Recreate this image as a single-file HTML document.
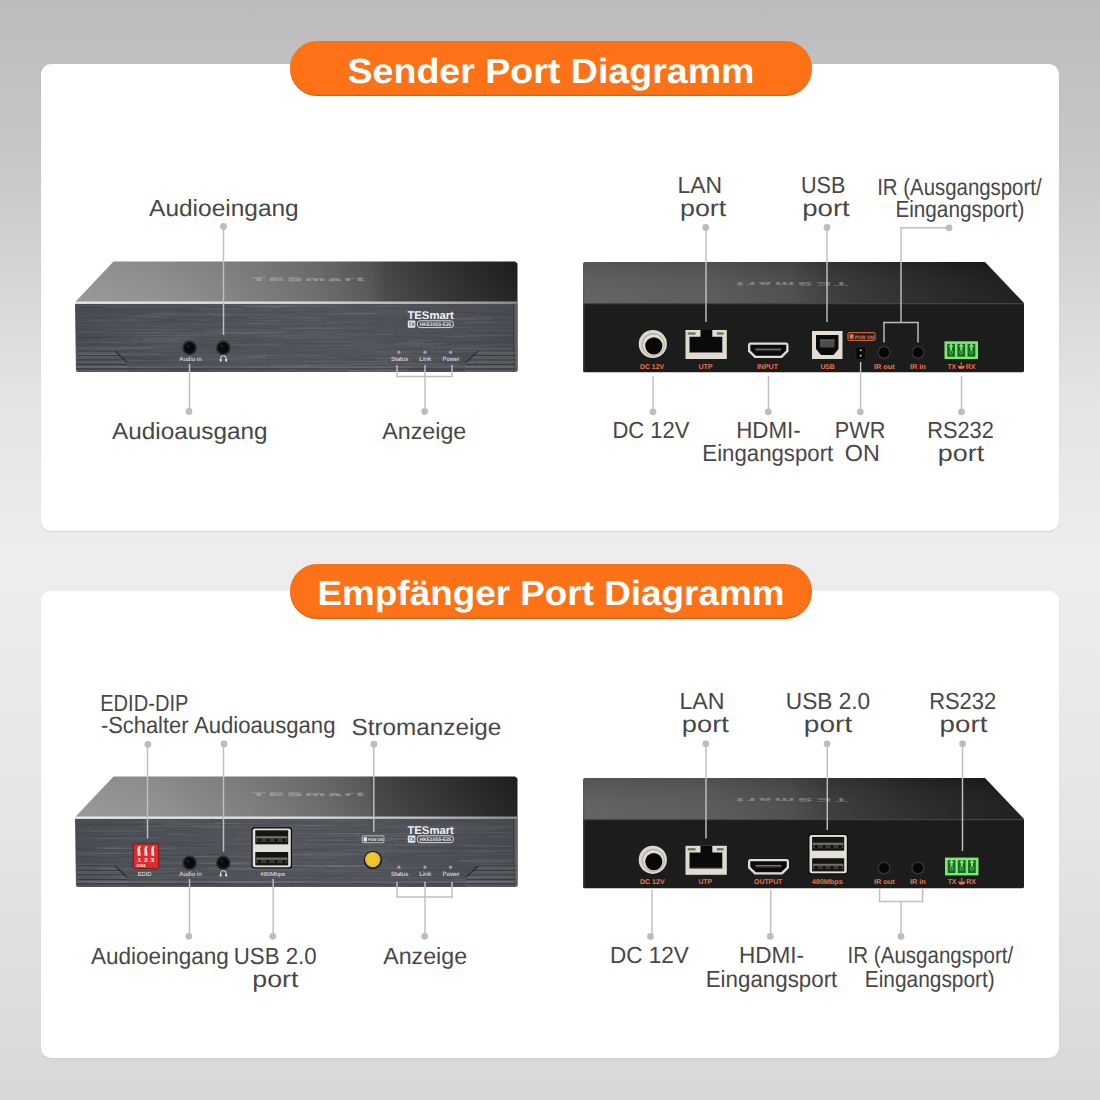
<!DOCTYPE html>
<html><head><meta charset="utf-8"><title>Port Diagramm</title><style>
html,body{margin:0;padding:0;}
body{width:1100px;height:1100px;overflow:hidden;position:relative;
background:linear-gradient(180deg,#bcbcbc 0px,#c6c6c6 150px,#e4e4e4 400px,#ededed 560px,#e6e6e6 800px,#d8d8d8 1100px);
font-family:"Liberation Sans",sans-serif;}
.card{position:absolute;left:41px;width:1018px;background:#fff;border-radius:10px;}
.pill{position:absolute;left:290px;width:522px;height:54.5px;border-radius:27px;background:#fd7216;
box-shadow:inset 0 -1.2px 1px rgba(140,60,0,0.35);}
svg{position:absolute;left:0;top:0;}
text{font-family:"Liberation Sans",sans-serif;}
</style></head><body>
<div class="card" style="top:64px;height:467px;box-shadow:0 1px 1px rgba(0,0,0,0.10);"></div>
<div class="card" style="top:590.5px;height:467.5px;box-shadow:0 1px 1px rgba(0,0,0,0.06);"></div>
<div class="pill" style="top:41px"></div>
<div class="pill" style="top:564.2px"></div>
<svg width="1100" height="1100" viewBox="0 0 1100 1100" font-family="Liberation Sans, sans-serif" text-rendering="geometricPrecision">
<defs>
<linearGradient id="gTopF" x1="0" y1="0" x2="1" y2="0">
<stop offset="0" stop-color="#969696"/><stop offset="0.19" stop-color="#8f8f8f"/><stop offset="0.35" stop-color="#828282"/><stop offset="0.553" stop-color="#6b6b6b"/><stop offset="0.67" stop-color="#555555"/><stop offset="0.7" stop-color="#484848"/><stop offset="0.85" stop-color="#303030"/><stop offset="1" stop-color="#1e1e1e"/>
</linearGradient>
<linearGradient id="gTopF2" x1="0" y1="0" x2="1" y2="0">
<stop offset="0" stop-color="#969696"/><stop offset="0.19" stop-color="#8f8f8f"/><stop offset="0.35" stop-color="#818181"/><stop offset="0.553" stop-color="#6b6b6b"/><stop offset="0.665" stop-color="#585858"/><stop offset="0.68" stop-color="#474747"/><stop offset="0.85" stop-color="#303030"/><stop offset="1" stop-color="#1e1e1e"/>
</linearGradient>
<linearGradient id="gTopFv" x1="0" y1="0" x2="0" y2="1">
<stop offset="0" stop-color="#000" stop-opacity="0.04"/><stop offset="1" stop-color="#fff" stop-opacity="0.03"/>
</linearGradient>
<linearGradient id="gHi" x1="0" y1="0" x2="1" y2="0">
<stop offset="0" stop-color="#e8e8e8"/><stop offset="0.5" stop-color="#dcdcdc"/><stop offset="0.8" stop-color="#b8b8b8"/><stop offset="1" stop-color="#8c8c8c"/>
</linearGradient>
<linearGradient id="gTopR" x1="0" y1="0" x2="1" y2="0">
<stop offset="0" stop-color="#5e5e5e"/><stop offset="0.27" stop-color="#585858"/><stop offset="0.47" stop-color="#4a4a4a"/><stop offset="0.56" stop-color="#383838"/><stop offset="0.72" stop-color="#292929"/><stop offset="0.9" stop-color="#1d1d1d"/><stop offset="1" stop-color="#181818"/>
</linearGradient>
<linearGradient id="gTopRv" x1="0" y1="0" x2="0" y2="1">
<stop offset="0" stop-color="#000" stop-opacity="0.10"/><stop offset="1" stop-color="#fff" stop-opacity="0.04"/>
</linearGradient>
<linearGradient id="gFrontShade" x1="0" y1="0" x2="1" y2="0">
<stop offset="0" stop-color="#000" stop-opacity="0.05"/><stop offset="0.5" stop-color="#fff" stop-opacity="0.03"/><stop offset="1" stop-color="#000" stop-opacity="0.08"/>
</linearGradient>
</defs>
<text x="551" y="83.4" font-size="35" font-weight="bold" fill="#fff" text-anchor="middle" textLength="407" lengthAdjust="spacingAndGlyphs">Sender Port Diagramm</text>
<text x="551" y="604.5" font-size="35" font-weight="bold" fill="#fff" text-anchor="middle" textLength="467" lengthAdjust="spacingAndGlyphs">Empfänger Port Diagramm</text>
<polygon points="113.5,261.5 515,261.5 517.5,263.5 517.5,302.3 75,302.3" fill="url(#gTopF)"/>
<polygon points="113.5,261.5 515,261.5 517.5,263.5 517.5,302.3 75,302.3" fill="url(#gTopFv)"/>
<text x="0" y="0" font-size="8.5" font-weight="bold" text-anchor="middle" fill="#c8c8c8" opacity="0.45" stroke="#c8c8c8" stroke-width="0.4" textLength="43" lengthAdjust="spacing" transform="translate(308,281.3) scale(2.6,0.6)">TESmart</text>
<path d="M75,302.3 L517.5,302.3 L517.5,370 Q517.5,372 515.5,372 L78,372 Q76,372 76,370 Z" fill="#4b4f55"/>
<rect x="454.2" y="334.5" width="57.0" height="1.0" fill="#ffffff" opacity="0.048"/>
<rect x="247.7" y="317.0" width="75.3" height="1.3" fill="#ffffff" opacity="0.065"/>
<rect x="300.2" y="334.1" width="25.6" height="1.3" fill="#ffffff" opacity="0.057"/>
<rect x="320.0" y="369.8" width="87.4" height="1.3" fill="#ffffff" opacity="0.058"/>
<rect x="76.0" y="305.3" width="54.6" height="0.7" fill="#ffffff" opacity="0.069"/>
<rect x="244.9" y="306.3" width="49.8" height="0.7" fill="#ffffff" opacity="0.051"/>
<rect x="105.7" y="323.9" width="15.3" height="1.3" fill="#ffffff" opacity="0.039"/>
<rect x="348.4" y="370.7" width="78.0" height="1.0" fill="#ffffff" opacity="0.063"/>
<rect x="403.0" y="323.6" width="20.3" height="1.0" fill="#000000" opacity="0.030"/>
<rect x="405.4" y="330.1" width="86.9" height="0.7" fill="#ffffff" opacity="0.036"/>
<rect x="206.6" y="335.6" width="88.5" height="0.7" fill="#ffffff" opacity="0.053"/>
<rect x="96.7" y="356.2" width="35.2" height="1.0" fill="#000000" opacity="0.026"/>
<rect x="172.5" y="354.9" width="23.8" height="0.7" fill="#000000" opacity="0.026"/>
<rect x="307.9" y="357.5" width="28.3" height="1.0" fill="#ffffff" opacity="0.050"/>
<rect x="221.6" y="355.6" width="46.4" height="1.0" fill="#ffffff" opacity="0.046"/>
<rect x="465.0" y="304.3" width="51.0" height="1.3" fill="#ffffff" opacity="0.040"/>
<rect x="429.6" y="318.4" width="44.6" height="1.3" fill="#ffffff" opacity="0.054"/>
<rect x="174.1" y="370.3" width="31.0" height="1.3" fill="#000000" opacity="0.041"/>
<rect x="157.6" y="330.1" width="20.6" height="1.3" fill="#ffffff" opacity="0.037"/>
<rect x="101.1" y="328.9" width="61.7" height="1.3" fill="#ffffff" opacity="0.049"/>
<rect x="330.0" y="313.4" width="44.0" height="1.0" fill="#ffffff" opacity="0.070"/>
<rect x="386.7" y="320.9" width="29.2" height="1.3" fill="#000000" opacity="0.035"/>
<rect x="231.3" y="363.1" width="60.3" height="0.7" fill="#ffffff" opacity="0.030"/>
<rect x="369.6" y="368.5" width="32.9" height="1.0" fill="#ffffff" opacity="0.046"/>
<rect x="457.9" y="337.0" width="54.0" height="0.7" fill="#000000" opacity="0.031"/>
<rect x="306.8" y="341.6" width="78.9" height="1.0" fill="#ffffff" opacity="0.036"/>
<rect x="246.9" y="354.3" width="20.2" height="0.7" fill="#ffffff" opacity="0.028"/>
<rect x="476.7" y="323.1" width="39.3" height="0.7" fill="#000000" opacity="0.043"/>
<rect x="348.0" y="369.7" width="64.3" height="1.3" fill="#ffffff" opacity="0.072"/>
<rect x="468.3" y="306.6" width="16.3" height="1.3" fill="#ffffff" opacity="0.041"/>
<rect x="256.8" y="305.7" width="62.7" height="1.3" fill="#ffffff" opacity="0.041"/>
<rect x="306.0" y="371.0" width="20.6" height="1.3" fill="#ffffff" opacity="0.027"/>
<rect x="487.5" y="353.5" width="24.7" height="1.0" fill="#ffffff" opacity="0.043"/>
<rect x="442.8" y="335.9" width="20.8" height="0.7" fill="#ffffff" opacity="0.068"/>
<rect x="210.5" y="305.3" width="64.7" height="0.7" fill="#ffffff" opacity="0.055"/>
<rect x="177.3" y="310.3" width="23.7" height="1.0" fill="#000000" opacity="0.061"/>
<rect x="243.9" y="366.6" width="67.1" height="1.0" fill="#ffffff" opacity="0.067"/>
<rect x="185.7" y="338.9" width="53.6" height="0.7" fill="#ffffff" opacity="0.049"/>
<rect x="407.4" y="368.2" width="23.5" height="1.3" fill="#000000" opacity="0.071"/>
<rect x="117.7" y="364.1" width="42.6" height="1.3" fill="#ffffff" opacity="0.035"/>
<rect x="465.0" y="354.6" width="40.7" height="1.0" fill="#000000" opacity="0.070"/>
<rect x="338.1" y="331.3" width="33.8" height="0.7" fill="#000000" opacity="0.069"/>
<rect x="126.3" y="318.9" width="84.1" height="0.7" fill="#ffffff" opacity="0.050"/>
<rect x="154.7" y="351.7" width="86.3" height="0.7" fill="#000000" opacity="0.031"/>
<rect x="242.6" y="322.7" width="31.1" height="1.3" fill="#ffffff" opacity="0.051"/>
<rect x="469.1" y="325.3" width="46.9" height="1.0" fill="#ffffff" opacity="0.041"/>
<rect x="344.1" y="322.9" width="60.6" height="1.0" fill="#000000" opacity="0.054"/>
<rect x="329.4" y="347.6" width="57.3" height="1.0" fill="#ffffff" opacity="0.048"/>
<rect x="401.4" y="355.6" width="35.0" height="0.7" fill="#ffffff" opacity="0.074"/>
<rect x="333.1" y="334.1" width="62.2" height="1.0" fill="#ffffff" opacity="0.073"/>
<rect x="150.3" y="317.5" width="76.8" height="1.3" fill="#000000" opacity="0.026"/>
<rect x="166.8" y="340.0" width="17.7" height="1.0" fill="#ffffff" opacity="0.052"/>
<rect x="101.2" y="337.7" width="89.8" height="1.3" fill="#ffffff" opacity="0.070"/>
<rect x="205.7" y="331.7" width="81.9" height="1.0" fill="#ffffff" opacity="0.048"/>
<rect x="310.3" y="363.5" width="15.5" height="1.3" fill="#000000" opacity="0.069"/>
<rect x="134.2" y="335.2" width="63.8" height="1.3" fill="#ffffff" opacity="0.068"/>
<rect x="170.5" y="365.9" width="24.3" height="1.0" fill="#000000" opacity="0.074"/>
<rect x="179.8" y="340.1" width="74.3" height="1.3" fill="#000000" opacity="0.068"/>
<rect x="217.6" y="338.0" width="17.8" height="1.0" fill="#000000" opacity="0.063"/>
<rect x="442.0" y="365.6" width="31.4" height="1.0" fill="#ffffff" opacity="0.065"/>
<rect x="445.8" y="339.9" width="66.5" height="1.0" fill="#ffffff" opacity="0.032"/>
<rect x="347.3" y="364.4" width="53.9" height="1.0" fill="#000000" opacity="0.072"/>
<rect x="376.1" y="342.9" width="66.7" height="1.0" fill="#000000" opacity="0.051"/>
<rect x="119.8" y="359.7" width="57.1" height="1.3" fill="#ffffff" opacity="0.067"/>
<rect x="463.4" y="321.4" width="52.6" height="1.3" fill="#ffffff" opacity="0.035"/>
<rect x="301.0" y="368.9" width="54.3" height="0.7" fill="#ffffff" opacity="0.046"/>
<rect x="76.0" y="337.9" width="60.4" height="0.7" fill="#000000" opacity="0.051"/>
<rect x="85.0" y="340.6" width="89.2" height="0.7" fill="#ffffff" opacity="0.060"/>
<rect x="456.4" y="366.4" width="49.4" height="1.0" fill="#000000" opacity="0.038"/>
<rect x="452.2" y="337.2" width="40.5" height="1.0" fill="#ffffff" opacity="0.051"/>
<rect x="452.4" y="317.1" width="61.3" height="0.7" fill="#ffffff" opacity="0.060"/>
<rect x="76.0" y="306.7" width="26.7" height="1.0" fill="#000000" opacity="0.041"/>
<rect x="269.7" y="320.6" width="52.4" height="1.3" fill="#ffffff" opacity="0.031"/>
<rect x="350.2" y="345.9" width="68.8" height="1.0" fill="#ffffff" opacity="0.026"/>
<rect x="118.9" y="331.9" width="54.7" height="0.7" fill="#ffffff" opacity="0.068"/>
<rect x="423.2" y="346.9" width="54.7" height="1.3" fill="#ffffff" opacity="0.054"/>
<rect x="397.3" y="319.8" width="70.6" height="0.7" fill="#000000" opacity="0.041"/>
<rect x="403.7" y="363.7" width="29.6" height="0.7" fill="#ffffff" opacity="0.069"/>
<rect x="102.3" y="363.6" width="24.9" height="1.0" fill="#000000" opacity="0.030"/>
<rect x="130.4" y="340.5" width="67.9" height="1.3" fill="#ffffff" opacity="0.059"/>
<rect x="204.5" y="310.7" width="57.7" height="1.0" fill="#ffffff" opacity="0.031"/>
<rect x="495.0" y="346.6" width="21.0" height="0.7" fill="#000000" opacity="0.065"/>
<rect x="309.8" y="311.4" width="17.8" height="1.3" fill="#000000" opacity="0.070"/>
<rect x="151.3" y="314.1" width="28.8" height="0.7" fill="#ffffff" opacity="0.075"/>
<rect x="484.8" y="310.7" width="19.6" height="1.0" fill="#ffffff" opacity="0.029"/>
<rect x="277.7" y="326.1" width="50.0" height="1.0" fill="#000000" opacity="0.036"/>
<rect x="413.7" y="305.2" width="67.6" height="0.7" fill="#000000" opacity="0.045"/>
<rect x="139.2" y="353.6" width="45.4" height="0.7" fill="#ffffff" opacity="0.030"/>
<rect x="435.8" y="325.9" width="21.4" height="1.3" fill="#ffffff" opacity="0.072"/>
<rect x="482.0" y="344.3" width="34.0" height="1.0" fill="#ffffff" opacity="0.039"/>
<rect x="397.8" y="354.0" width="73.3" height="1.0" fill="#000000" opacity="0.032"/>
<rect x="380.0" y="363.0" width="67.1" height="0.7" fill="#ffffff" opacity="0.045"/>
<rect x="171.3" y="316.6" width="74.8" height="0.7" fill="#000000" opacity="0.026"/>
<rect x="76.0" y="370.4" width="82.7" height="1.0" fill="#ffffff" opacity="0.072"/>
<rect x="239.1" y="324.2" width="31.2" height="0.7" fill="#000000" opacity="0.052"/>
<rect x="143.7" y="338.6" width="52.3" height="0.7" fill="#ffffff" opacity="0.063"/>
<rect x="370.5" y="305.8" width="61.2" height="1.0" fill="#ffffff" opacity="0.047"/>
<rect x="226.5" y="307.7" width="29.7" height="0.7" fill="#000000" opacity="0.038"/>
<rect x="271.3" y="364.7" width="56.3" height="1.3" fill="#ffffff" opacity="0.053"/>
<rect x="76.0" y="346.9" width="75.7" height="1.3" fill="#ffffff" opacity="0.058"/>
<rect x="203.1" y="330.1" width="85.4" height="0.7" fill="#ffffff" opacity="0.068"/>
<rect x="482.2" y="345.1" width="19.4" height="1.0" fill="#000000" opacity="0.039"/>
<rect x="180.5" y="344.2" width="42.4" height="1.3" fill="#000000" opacity="0.038"/>
<rect x="76.0" y="348.6" width="71.1" height="0.7" fill="#ffffff" opacity="0.054"/>
<rect x="211.8" y="314.7" width="71.6" height="1.0" fill="#ffffff" opacity="0.062"/>
<rect x="181.9" y="343.1" width="69.2" height="0.7" fill="#000000" opacity="0.046"/>
<rect x="76.0" y="321.0" width="71.7" height="0.7" fill="#ffffff" opacity="0.072"/>
<rect x="485.5" y="365.0" width="25.8" height="0.7" fill="#ffffff" opacity="0.055"/>
<rect x="104.8" y="307.7" width="46.3" height="0.7" fill="#ffffff" opacity="0.043"/>
<rect x="345.8" y="312.6" width="48.2" height="1.0" fill="#ffffff" opacity="0.055"/>
<rect x="395.1" y="343.1" width="46.5" height="1.3" fill="#ffffff" opacity="0.066"/>
<rect x="145.9" y="367.8" width="70.1" height="0.7" fill="#000000" opacity="0.050"/>
<rect x="203.1" y="356.6" width="61.9" height="1.0" fill="#ffffff" opacity="0.055"/>
<rect x="324.9" y="342.0" width="59.4" height="0.7" fill="#ffffff" opacity="0.034"/>
<rect x="130.2" y="337.8" width="64.0" height="1.3" fill="#ffffff" opacity="0.027"/>
<rect x="76.0" y="304.9" width="34.5" height="0.7" fill="#ffffff" opacity="0.030"/>
<rect x="441.8" y="322.9" width="71.7" height="0.7" fill="#ffffff" opacity="0.053"/>
<rect x="206.2" y="369.8" width="51.3" height="1.0" fill="#ffffff" opacity="0.042"/>
<rect x="388.9" y="313.2" width="80.2" height="1.0" fill="#ffffff" opacity="0.065"/>
<rect x="235.2" y="360.2" width="72.7" height="1.3" fill="#ffffff" opacity="0.038"/>
<rect x="479.2" y="328.9" width="36.8" height="1.0" fill="#ffffff" opacity="0.040"/>
<rect x="349.3" y="359.4" width="28.8" height="1.3" fill="#000000" opacity="0.030"/>
<rect x="313.6" y="309.5" width="21.2" height="1.0" fill="#000000" opacity="0.066"/>
<rect x="76.0" y="324.2" width="73.2" height="0.7" fill="#ffffff" opacity="0.071"/>
<rect x="376.1" y="309.7" width="37.8" height="1.3" fill="#ffffff" opacity="0.041"/>
<rect x="187.8" y="318.9" width="64.3" height="0.7" fill="#000000" opacity="0.041"/>
<rect x="447.6" y="342.3" width="68.4" height="1.0" fill="#000000" opacity="0.047"/>
<rect x="486.0" y="334.9" width="30.0" height="1.3" fill="#ffffff" opacity="0.070"/>
<rect x="76.0" y="309.9" width="77.1" height="1.3" fill="#000000" opacity="0.045"/>
<rect x="202.8" y="357.4" width="70.4" height="1.0" fill="#ffffff" opacity="0.052"/>
<rect x="395.8" y="341.8" width="28.2" height="1.0" fill="#ffffff" opacity="0.066"/>
<rect x="297.8" y="338.7" width="55.8" height="0.7" fill="#000000" opacity="0.058"/>
<rect x="394.7" y="308.6" width="56.0" height="0.7" fill="#000000" opacity="0.042"/>
<rect x="76.0" y="353.5" width="82.4" height="1.3" fill="#ffffff" opacity="0.058"/>
<rect x="152.2" y="354.0" width="63.7" height="0.7" fill="#ffffff" opacity="0.049"/>
<rect x="205.5" y="326.9" width="49.4" height="1.0" fill="#000000" opacity="0.059"/>
<rect x="76.0" y="336.9" width="75.4" height="1.3" fill="#000000" opacity="0.071"/>
<rect x="185.2" y="354.8" width="88.9" height="0.7" fill="#ffffff" opacity="0.065"/>
<rect x="314.3" y="363.6" width="86.8" height="1.3" fill="#ffffff" opacity="0.043"/>
<rect x="237.7" y="357.8" width="46.6" height="0.7" fill="#ffffff" opacity="0.037"/>
<rect x="128.2" y="370.4" width="43.2" height="0.7" fill="#ffffff" opacity="0.044"/>
<rect x="76.0" y="323.8" width="87.7" height="1.0" fill="#000000" opacity="0.062"/>
<rect x="118.4" y="347.5" width="73.2" height="0.7" fill="#ffffff" opacity="0.063"/>
<rect x="76.0" y="343.3" width="83.2" height="0.7" fill="#000000" opacity="0.035"/>
<rect x="375.3" y="318.8" width="32.7" height="1.3" fill="#000000" opacity="0.050"/>
<rect x="133.9" y="316.6" width="36.1" height="1.0" fill="#ffffff" opacity="0.056"/>
<rect x="449.2" y="336.3" width="34.5" height="1.0" fill="#ffffff" opacity="0.058"/>
<rect x="82.1" y="336.5" width="31.6" height="0.7" fill="#000000" opacity="0.065"/>
<rect x="379.3" y="369.4" width="74.6" height="0.7" fill="#ffffff" opacity="0.058"/>
<rect x="434.0" y="363.8" width="80.6" height="1.0" fill="#ffffff" opacity="0.065"/>
<rect x="218.6" y="332.4" width="80.6" height="1.0" fill="#ffffff" opacity="0.032"/>
<rect x="313.3" y="313.0" width="70.6" height="1.3" fill="#ffffff" opacity="0.052"/>
<rect x="151.7" y="342.4" width="28.4" height="0.7" fill="#ffffff" opacity="0.066"/>
<rect x="277.7" y="327.8" width="61.1" height="1.0" fill="#ffffff" opacity="0.060"/>
<rect x="423.7" y="368.0" width="59.0" height="1.0" fill="#ffffff" opacity="0.026"/>
<rect x="76.0" y="332.1" width="83.8" height="1.0" fill="#ffffff" opacity="0.035"/>
<rect x="466.5" y="331.9" width="49.5" height="1.0" fill="#000000" opacity="0.041"/>
<rect x="262.6" y="309.4" width="37.9" height="1.3" fill="#ffffff" opacity="0.028"/>
<rect x="238.0" y="350.1" width="22.9" height="1.0" fill="#ffffff" opacity="0.062"/>
<rect x="234.0" y="347.9" width="15.9" height="1.3" fill="#000000" opacity="0.049"/>
<rect x="76.0" y="341.9" width="49.4" height="1.3" fill="#ffffff" opacity="0.035"/>
<rect x="457.4" y="314.4" width="58.6" height="1.3" fill="#000000" opacity="0.040"/>
<rect x="85.9" y="354.7" width="56.7" height="0.7" fill="#ffffff" opacity="0.035"/>
<rect x="177.4" y="311.6" width="38.2" height="1.0" fill="#000000" opacity="0.061"/>
<rect x="99.0" y="334.1" width="43.7" height="1.3" fill="#ffffff" opacity="0.030"/>
<rect x="146.8" y="346.3" width="28.4" height="0.7" fill="#ffffff" opacity="0.067"/>
<rect x="79.0" y="351.3" width="22.5" height="0.7" fill="#ffffff" opacity="0.047"/>
<rect x="445.5" y="327.1" width="70.5" height="0.7" fill="#ffffff" opacity="0.057"/>
<rect x="199.8" y="359.1" width="43.9" height="1.0" fill="#ffffff" opacity="0.056"/>
<rect x="474.3" y="331.0" width="41.7" height="0.7" fill="#ffffff" opacity="0.058"/>
<rect x="141.8" y="339.6" width="34.6" height="1.0" fill="#ffffff" opacity="0.058"/>
<rect x="207.2" y="341.5" width="30.4" height="1.0" fill="#ffffff" opacity="0.066"/>
<rect x="296.1" y="351.9" width="34.0" height="1.0" fill="#000000" opacity="0.052"/>
<rect x="301.9" y="345.1" width="53.5" height="0.7" fill="#ffffff" opacity="0.074"/>
<rect x="453.8" y="370.9" width="62.2" height="1.3" fill="#ffffff" opacity="0.072"/>
<rect x="99.3" y="348.3" width="73.2" height="1.0" fill="#ffffff" opacity="0.054"/>
<rect x="449.0" y="326.5" width="21.9" height="1.0" fill="#ffffff" opacity="0.048"/>
<rect x="146.1" y="334.5" width="69.7" height="1.3" fill="#ffffff" opacity="0.052"/>
<rect x="108.3" y="308.5" width="83.6" height="1.3" fill="#000000" opacity="0.075"/>
<rect x="426.7" y="344.4" width="24.2" height="1.0" fill="#000000" opacity="0.059"/>
<rect x="412.5" y="320.4" width="58.0" height="0.7" fill="#ffffff" opacity="0.055"/>
<rect x="397.8" y="334.6" width="45.3" height="1.3" fill="#ffffff" opacity="0.032"/>
<rect x="305.2" y="360.8" width="83.0" height="1.3" fill="#ffffff" opacity="0.065"/>
<rect x="76.0" y="314.9" width="45.9" height="1.3" fill="#ffffff" opacity="0.044"/>
<rect x="113.7" y="331.4" width="40.2" height="0.7" fill="#000000" opacity="0.053"/>
<rect x="356.6" y="307.9" width="73.8" height="0.7" fill="#000000" opacity="0.045"/>
<rect x="231.9" y="344.3" width="50.2" height="1.3" fill="#ffffff" opacity="0.071"/>
<rect x="254.1" y="354.9" width="71.4" height="1.0" fill="#ffffff" opacity="0.067"/>
<rect x="301.3" y="331.6" width="47.5" height="1.3" fill="#ffffff" opacity="0.042"/>
<rect x="175.7" y="333.1" width="82.8" height="0.7" fill="#ffffff" opacity="0.040"/>
<rect x="304.0" y="364.3" width="69.9" height="1.0" fill="#ffffff" opacity="0.069"/>
<rect x="143.5" y="320.6" width="78.3" height="1.0" fill="#000000" opacity="0.074"/>
<rect x="154.0" y="350.7" width="54.5" height="1.0" fill="#ffffff" opacity="0.058"/>
<rect x="352.6" y="363.0" width="89.9" height="1.3" fill="#ffffff" opacity="0.043"/>
<rect x="135.9" y="332.4" width="75.4" height="1.3" fill="#ffffff" opacity="0.046"/>
<rect x="413.4" y="364.6" width="22.4" height="0.7" fill="#ffffff" opacity="0.069"/>
<rect x="175.8" y="367.7" width="15.0" height="1.0" fill="#ffffff" opacity="0.026"/>
<rect x="393.7" y="308.5" width="82.1" height="1.0" fill="#ffffff" opacity="0.032"/>
<rect x="80.5" y="343.4" width="18.4" height="1.0" fill="#000000" opacity="0.040"/>
<rect x="381.1" y="313.9" width="73.2" height="0.7" fill="#ffffff" opacity="0.035"/>
<rect x="429.9" y="364.1" width="29.7" height="1.0" fill="#ffffff" opacity="0.070"/>
<rect x="473.5" y="315.8" width="42.5" height="0.7" fill="#ffffff" opacity="0.052"/>
<rect x="76.0" y="317.1" width="81.0" height="0.7" fill="#000000" opacity="0.040"/>
<rect x="243.2" y="368.4" width="35.5" height="0.7" fill="#000000" opacity="0.042"/>
<rect x="441.2" y="332.0" width="27.7" height="0.7" fill="#ffffff" opacity="0.061"/>
<rect x="262.1" y="322.2" width="69.0" height="1.0" fill="#000000" opacity="0.065"/>
<rect x="99.8" y="357.9" width="54.3" height="1.3" fill="#000000" opacity="0.036"/>
<rect x="161.1" y="364.0" width="28.5" height="0.7" fill="#ffffff" opacity="0.057"/>
<rect x="469.2" y="335.2" width="20.7" height="0.7" fill="#ffffff" opacity="0.052"/>
<rect x="282.9" y="304.8" width="59.0" height="1.0" fill="#ffffff" opacity="0.065"/>
<rect x="114.8" y="315.3" width="89.1" height="0.7" fill="#ffffff" opacity="0.039"/>
<rect x="105.2" y="306.2" width="74.3" height="0.7" fill="#ffffff" opacity="0.056"/>
<rect x="253.6" y="330.0" width="84.7" height="0.7" fill="#ffffff" opacity="0.028"/>
<rect x="269.2" y="365.0" width="39.1" height="0.7" fill="#ffffff" opacity="0.051"/>
<rect x="477.4" y="359.5" width="38.6" height="1.3" fill="#ffffff" opacity="0.073"/>
<rect x="88.9" y="343.9" width="72.8" height="1.0" fill="#000000" opacity="0.037"/>
<rect x="374.0" y="340.8" width="34.2" height="1.3" fill="#000000" opacity="0.037"/>
<rect x="302.0" y="340.6" width="78.9" height="1.0" fill="#ffffff" opacity="0.027"/>
<rect x="263.8" y="369.0" width="18.9" height="0.7" fill="#ffffff" opacity="0.041"/>
<rect x="241.1" y="305.5" width="52.2" height="1.0" fill="#ffffff" opacity="0.061"/>
<rect x="284.8" y="309.1" width="83.0" height="1.3" fill="#ffffff" opacity="0.054"/>
<rect x="199.9" y="320.2" width="26.0" height="0.7" fill="#ffffff" opacity="0.060"/>
<rect x="376.0" y="353.6" width="73.6" height="1.0" fill="#ffffff" opacity="0.029"/>
<rect x="129.3" y="315.7" width="34.1" height="1.3" fill="#ffffff" opacity="0.058"/>
<rect x="246.9" y="356.8" width="19.6" height="1.0" fill="#ffffff" opacity="0.060"/>
<rect x="282.3" y="369.0" width="18.2" height="1.3" fill="#ffffff" opacity="0.074"/>
<rect x="482.6" y="354.0" width="33.4" height="0.7" fill="#ffffff" opacity="0.037"/>
<rect x="184.9" y="313.7" width="44.5" height="1.0" fill="#ffffff" opacity="0.072"/>
<rect x="471.1" y="349.6" width="44.9" height="1.3" fill="#000000" opacity="0.036"/>
<rect x="220.5" y="312.2" width="79.2" height="0.7" fill="#000000" opacity="0.072"/>
<rect x="439.2" y="324.9" width="76.8" height="0.7" fill="#000000" opacity="0.027"/>
<rect x="355.7" y="343.3" width="89.6" height="1.3" fill="#ffffff" opacity="0.060"/>
<rect x="440.2" y="365.9" width="28.3" height="0.7" fill="#ffffff" opacity="0.044"/>
<rect x="136.3" y="318.7" width="41.1" height="1.3" fill="#000000" opacity="0.065"/>
<rect x="266.3" y="317.9" width="31.1" height="1.0" fill="#000000" opacity="0.049"/>
<rect x="422.6" y="370.6" width="65.9" height="0.7" fill="#000000" opacity="0.052"/>
<rect x="202.2" y="309.2" width="66.9" height="1.0" fill="#ffffff" opacity="0.056"/>
<rect x="231.6" y="316.4" width="34.7" height="1.3" fill="#000000" opacity="0.061"/>
<rect x="386.7" y="311.2" width="19.3" height="1.0" fill="#ffffff" opacity="0.032"/>
<rect x="76.0" y="352.6" width="83.0" height="1.0" fill="#000000" opacity="0.067"/>
<rect x="178.5" y="309.8" width="81.2" height="1.3" fill="#000000" opacity="0.058"/>
<rect x="77.5" y="330.6" width="32.9" height="0.7" fill="#ffffff" opacity="0.051"/>
<rect x="243.4" y="306.4" width="38.4" height="1.3" fill="#ffffff" opacity="0.060"/>
<rect x="377.9" y="351.4" width="34.5" height="1.3" fill="#ffffff" opacity="0.044"/>
<rect x="246.2" y="360.0" width="55.1" height="0.7" fill="#000000" opacity="0.044"/>
<rect x="209.3" y="319.4" width="36.9" height="0.7" fill="#ffffff" opacity="0.032"/>
<rect x="76.0" y="354.1" width="51.2" height="1.3" fill="#ffffff" opacity="0.040"/>
<rect x="282.1" y="308.8" width="79.0" height="1.0" fill="#000000" opacity="0.058"/>
<rect x="84.3" y="319.9" width="62.4" height="1.0" fill="#000000" opacity="0.031"/>
<rect x="198.5" y="308.3" width="43.8" height="1.0" fill="#ffffff" opacity="0.060"/>
<rect x="262.5" y="314.9" width="45.2" height="0.7" fill="#ffffff" opacity="0.043"/>
<rect x="215.4" y="320.3" width="22.0" height="1.0" fill="#000000" opacity="0.065"/>
<rect x="285.6" y="343.2" width="67.6" height="1.3" fill="#000000" opacity="0.071"/>
<rect x="435.9" y="312.3" width="80.1" height="1.0" fill="#000000" opacity="0.028"/>
<rect x="373.7" y="360.8" width="37.5" height="1.0" fill="#ffffff" opacity="0.029"/>
<rect x="284.0" y="327.5" width="81.9" height="1.0" fill="#ffffff" opacity="0.066"/>
<rect x="204.3" y="347.1" width="43.8" height="1.0" fill="#ffffff" opacity="0.027"/>
<rect x="315.6" y="367.2" width="72.9" height="1.3" fill="#ffffff" opacity="0.052"/>
<rect x="423.2" y="332.0" width="35.7" height="1.0" fill="#000000" opacity="0.044"/>
<rect x="286.5" y="306.8" width="25.2" height="1.0" fill="#000000" opacity="0.050"/>
<rect x="147.6" y="369.5" width="26.2" height="0.7" fill="#ffffff" opacity="0.038"/>
<rect x="307.7" y="319.9" width="15.1" height="1.0" fill="#ffffff" opacity="0.025"/>
<rect x="285.3" y="337.2" width="63.8" height="1.3" fill="#ffffff" opacity="0.066"/>
<rect x="208.5" y="368.9" width="40.0" height="0.7" fill="#ffffff" opacity="0.041"/>
<rect x="122.5" y="318.2" width="44.7" height="0.7" fill="#ffffff" opacity="0.066"/>
<rect x="396.8" y="326.5" width="66.7" height="1.0" fill="#000000" opacity="0.043"/>
<rect x="262.7" y="328.8" width="65.1" height="1.3" fill="#000000" opacity="0.037"/>
<rect x="358.6" y="351.4" width="83.8" height="0.7" fill="#ffffff" opacity="0.074"/>
<rect x="430.4" y="363.4" width="38.3" height="1.3" fill="#000000" opacity="0.064"/>
<rect x="226.8" y="307.0" width="61.6" height="1.0" fill="#000000" opacity="0.028"/>
<rect x="346.0" y="330.8" width="70.5" height="1.0" fill="#000000" opacity="0.061"/>
<rect x="123.7" y="328.8" width="66.2" height="0.7" fill="#ffffff" opacity="0.067"/>
<rect x="363.8" y="342.2" width="46.5" height="1.3" fill="#000000" opacity="0.062"/>
<rect x="229.7" y="357.7" width="24.4" height="1.3" fill="#ffffff" opacity="0.040"/>
<rect x="325.6" y="316.6" width="16.0" height="0.7" fill="#000000" opacity="0.038"/>
<rect x="219.4" y="332.3" width="62.4" height="1.3" fill="#ffffff" opacity="0.074"/>
<rect x="414.3" y="314.8" width="89.8" height="0.7" fill="#ffffff" opacity="0.039"/>
<rect x="216.5" y="340.2" width="75.1" height="0.7" fill="#000000" opacity="0.067"/>
<rect x="259.0" y="315.7" width="20.1" height="1.3" fill="#000000" opacity="0.039"/>
<rect x="115.7" y="352.4" width="45.6" height="1.3" fill="#ffffff" opacity="0.044"/>
<rect x="439.2" y="318.7" width="36.2" height="1.0" fill="#ffffff" opacity="0.034"/>
<rect x="422.3" y="341.4" width="82.3" height="1.0" fill="#000000" opacity="0.031"/>
<rect x="308.7" y="363.3" width="35.3" height="1.0" fill="#000000" opacity="0.056"/>
<rect x="153.9" y="325.8" width="21.1" height="1.3" fill="#ffffff" opacity="0.038"/>
<rect x="402.9" y="314.4" width="15.5" height="1.3" fill="#ffffff" opacity="0.029"/>
<rect x="410.4" y="326.7" width="25.5" height="1.0" fill="#000000" opacity="0.049"/>
<rect x="292.8" y="327.7" width="57.0" height="0.7" fill="#ffffff" opacity="0.053"/>
<rect x="142.0" y="359.5" width="33.9" height="1.0" fill="#000000" opacity="0.068"/>
<rect x="76.0" y="342.4" width="85.6" height="0.7" fill="#ffffff" opacity="0.072"/>
<rect x="223.6" y="312.2" width="20.6" height="1.3" fill="#ffffff" opacity="0.041"/>
<rect x="76.0" y="335.4" width="81.5" height="1.0" fill="#ffffff" opacity="0.026"/>
<rect x="466.1" y="322.0" width="33.4" height="1.0" fill="#ffffff" opacity="0.045"/>
<rect x="473.5" y="359.5" width="42.5" height="0.7" fill="#000000" opacity="0.072"/>
<rect x="152.3" y="331.1" width="67.9" height="1.3" fill="#ffffff" opacity="0.026"/>
<rect x="375.1" y="313.7" width="39.3" height="1.3" fill="#000000" opacity="0.058"/>
<rect x="189.0" y="346.1" width="48.7" height="0.7" fill="#000000" opacity="0.070"/>
<rect x="152.6" y="343.9" width="34.8" height="0.7" fill="#ffffff" opacity="0.036"/>
<rect x="147.7" y="313.0" width="37.8" height="1.0" fill="#ffffff" opacity="0.030"/>
<rect x="76.0" y="329.2" width="28.7" height="1.0" fill="#000000" opacity="0.050"/>
<rect x="402.4" y="310.6" width="86.3" height="0.7" fill="#ffffff" opacity="0.026"/>
<rect x="87.9" y="325.7" width="71.6" height="1.0" fill="#ffffff" opacity="0.047"/>
<rect x="429.9" y="337.6" width="73.5" height="1.0" fill="#000000" opacity="0.028"/>
<rect x="137.1" y="367.5" width="39.2" height="1.0" fill="#ffffff" opacity="0.051"/>
<rect x="211.1" y="314.2" width="62.6" height="1.3" fill="#ffffff" opacity="0.028"/>
<rect x="412.0" y="345.4" width="81.6" height="1.3" fill="#ffffff" opacity="0.046"/>
<rect x="389.0" y="366.0" width="24.1" height="1.3" fill="#ffffff" opacity="0.048"/>
<rect x="257.8" y="335.5" width="77.7" height="1.0" fill="#ffffff" opacity="0.055"/>
<rect x="266.4" y="307.1" width="84.0" height="1.0" fill="#ffffff" opacity="0.047"/>
<rect x="209.3" y="307.4" width="19.1" height="1.3" fill="#000000" opacity="0.048"/>
<rect x="380.9" y="353.5" width="38.5" height="1.3" fill="#ffffff" opacity="0.045"/>
<rect x="83.7" y="354.5" width="82.3" height="0.7" fill="#ffffff" opacity="0.067"/>
<rect x="113.6" y="357.0" width="25.7" height="0.7" fill="#000000" opacity="0.051"/>
<rect x="349.0" y="308.6" width="80.3" height="1.0" fill="#000000" opacity="0.051"/>
<rect x="429.2" y="334.6" width="55.2" height="0.7" fill="#ffffff" opacity="0.049"/>
<rect x="258.3" y="320.2" width="23.0" height="1.0" fill="#ffffff" opacity="0.069"/>
<rect x="375.6" y="357.7" width="79.1" height="1.3" fill="#ffffff" opacity="0.074"/>
<rect x="223.8" y="357.4" width="26.4" height="0.7" fill="#000000" opacity="0.042"/>
<rect x="187.2" y="368.0" width="31.5" height="1.0" fill="#000000" opacity="0.034"/>
<rect x="247.8" y="306.4" width="66.1" height="1.0" fill="#ffffff" opacity="0.029"/>
<rect x="430.6" y="318.1" width="62.2" height="1.3" fill="#ffffff" opacity="0.074"/>
<rect x="76.0" y="348.9" width="47.3" height="1.0" fill="#ffffff" opacity="0.060"/>
<rect x="135.6" y="367.4" width="64.4" height="0.7" fill="#ffffff" opacity="0.034"/>
<rect x="76.0" y="315.7" width="58.5" height="1.0" fill="#000000" opacity="0.031"/>
<rect x="141.4" y="345.0" width="41.8" height="0.7" fill="#ffffff" opacity="0.060"/>
<rect x="374.6" y="352.2" width="80.3" height="0.7" fill="#ffffff" opacity="0.032"/>
<rect x="324.1" y="322.0" width="43.1" height="1.0" fill="#ffffff" opacity="0.048"/>
<rect x="291.0" y="312.5" width="22.1" height="1.0" fill="#ffffff" opacity="0.037"/>
<rect x="449.7" y="312.1" width="24.2" height="0.7" fill="#000000" opacity="0.059"/>
<rect x="138.0" y="319.3" width="50.8" height="1.0" fill="#000000" opacity="0.055"/>
<rect x="201.4" y="347.0" width="42.5" height="1.3" fill="#000000" opacity="0.047"/>
<rect x="338.1" y="323.8" width="67.1" height="0.7" fill="#000000" opacity="0.026"/>
<rect x="145.7" y="313.1" width="82.2" height="1.0" fill="#ffffff" opacity="0.039"/>
<rect x="296.5" y="359.0" width="78.8" height="1.3" fill="#000000" opacity="0.058"/>
<rect x="225.2" y="364.1" width="21.6" height="1.0" fill="#ffffff" opacity="0.027"/>
<rect x="450.7" y="348.9" width="40.8" height="0.7" fill="#ffffff" opacity="0.058"/>
<rect x="259.5" y="335.6" width="42.1" height="1.0" fill="#ffffff" opacity="0.049"/>
<rect x="461.8" y="344.7" width="54.2" height="1.0" fill="#ffffff" opacity="0.047"/>
<rect x="481.2" y="347.7" width="34.8" height="0.7" fill="#ffffff" opacity="0.075"/>
<rect x="139.8" y="331.1" width="64.2" height="1.3" fill="#000000" opacity="0.035"/>
<rect x="91.4" y="359.7" width="53.7" height="0.7" fill="#ffffff" opacity="0.025"/>
<rect x="437.7" y="350.7" width="74.0" height="1.3" fill="#ffffff" opacity="0.066"/>
<rect x="225.9" y="335.9" width="81.3" height="0.7" fill="#000000" opacity="0.026"/>
<rect x="76.0" y="367.3" width="82.2" height="1.0" fill="#ffffff" opacity="0.046"/>
<rect x="411.6" y="339.9" width="23.3" height="1.0" fill="#ffffff" opacity="0.075"/>
<rect x="104.3" y="312.6" width="57.6" height="0.7" fill="#000000" opacity="0.050"/>
<rect x="147.9" y="323.9" width="73.3" height="1.0" fill="#ffffff" opacity="0.048"/>
<rect x="108.1" y="343.6" width="27.8" height="0.7" fill="#ffffff" opacity="0.068"/>
<rect x="113.0" y="358.3" width="52.8" height="1.3" fill="#000000" opacity="0.051"/>
<rect x="346.0" y="345.5" width="87.3" height="0.7" fill="#ffffff" opacity="0.046"/>
<rect x="86.8" y="319.6" width="74.8" height="1.3" fill="#ffffff" opacity="0.061"/>
<rect x="223.5" y="323.9" width="61.4" height="1.0" fill="#ffffff" opacity="0.040"/>
<rect x="76.0" y="347.2" width="78.6" height="1.0" fill="#ffffff" opacity="0.040"/>
<rect x="468.6" y="321.7" width="23.4" height="1.0" fill="#ffffff" opacity="0.070"/>
<rect x="451.7" y="347.9" width="64.3" height="1.3" fill="#ffffff" opacity="0.074"/>
<rect x="382.6" y="330.6" width="37.5" height="1.0" fill="#ffffff" opacity="0.036"/>
<rect x="208.3" y="332.9" width="50.8" height="1.0" fill="#ffffff" opacity="0.042"/>
<rect x="76.0" y="307.6" width="77.7" height="1.3" fill="#000000" opacity="0.044"/>
<rect x="103.8" y="331.0" width="31.7" height="1.0" fill="#000000" opacity="0.027"/>
<rect x="389.6" y="336.6" width="32.3" height="1.0" fill="#000000" opacity="0.062"/>
<rect x="76.0" y="331.4" width="87.5" height="1.3" fill="#ffffff" opacity="0.043"/>
<rect x="208.4" y="328.7" width="59.9" height="1.0" fill="#ffffff" opacity="0.035"/>
<rect x="113.5" y="308.0" width="28.8" height="1.0" fill="#ffffff" opacity="0.028"/>
<rect x="401.8" y="318.5" width="59.2" height="1.0" fill="#000000" opacity="0.057"/>
<rect x="356.9" y="331.1" width="36.4" height="0.7" fill="#ffffff" opacity="0.045"/>
<rect x="195.8" y="359.8" width="39.6" height="0.7" fill="#ffffff" opacity="0.064"/>
<rect x="246.8" y="323.1" width="90.0" height="1.0" fill="#ffffff" opacity="0.056"/>
<rect x="75" y="302.3" width="442.5" height="69.69999999999999" fill="url(#gFrontShade)"/>
<rect x="75" y="301.5" width="442.5" height="2.4" fill="url(#gHi)"/>
<rect x="76" y="366" width="440" height="2" fill="#ffffff" opacity="0.08"/>
<rect x="76" y="368.4" width="440" height="1.1" fill="#000000" opacity="0.25"/>
<rect x="514" y="303.8" width="3.5" height="67.19999999999999" fill="#5c5f64"/>
<rect x="513.6" y="303.8" width="0.8" height="67.19999999999999" fill="#2e3034" opacity="0.7"/>
<path d="M76,349.5 L115,349.5 L128,361.5 L128,371.5 L78,371.5 Q76,371.5 76,370 Z" fill="#ffffff" opacity="0.06"/>
<path d="M514,349.5 L478,349.5 L465,361.5 L465,371.5 L514,371.5 Z" fill="#ffffff" opacity="0.08"/>
<path d="M77.5,351.0 L115.0,351.0" stroke="#2e3136" stroke-width="1.1" fill="none" opacity="0.8"/>
<path d="M77.5,352.3 L115.0,352.3" stroke="#70747a" stroke-width="0.7" fill="none" opacity="0.45"/>
<path d="M515.5,351.0 L478.0,351.0" stroke="#2e3136" stroke-width="1.1" fill="none" opacity="0.8"/>
<path d="M515.5,352.3 L478.0,352.3" stroke="#70747a" stroke-width="0.7" fill="none" opacity="0.45"/>
<path d="M77.5,355.5 L119.9,355.5" stroke="#2e3136" stroke-width="1.1" fill="none" opacity="0.8"/>
<path d="M77.5,356.8 L119.9,356.8" stroke="#70747a" stroke-width="0.7" fill="none" opacity="0.45"/>
<path d="M515.5,355.5 L473.1,355.5" stroke="#2e3136" stroke-width="1.1" fill="none" opacity="0.8"/>
<path d="M515.5,356.8 L473.1,356.8" stroke="#70747a" stroke-width="0.7" fill="none" opacity="0.45"/>
<path d="M77.5,360.0 L124.8,360.0" stroke="#2e3136" stroke-width="1.1" fill="none" opacity="0.8"/>
<path d="M77.5,361.3 L124.8,361.3" stroke="#70747a" stroke-width="0.7" fill="none" opacity="0.45"/>
<path d="M515.5,360.0 L468.2,360.0" stroke="#2e3136" stroke-width="1.1" fill="none" opacity="0.8"/>
<path d="M515.5,361.3 L468.2,361.3" stroke="#70747a" stroke-width="0.7" fill="none" opacity="0.45"/>
<path d="M77.5,364.6 L127.5,364.6" stroke="#2e3136" stroke-width="1.1" fill="none" opacity="0.8"/>
<path d="M77.5,365.9 L127.5,365.9" stroke="#70747a" stroke-width="0.7" fill="none" opacity="0.45"/>
<path d="M515.5,364.6 L466.0,364.6" stroke="#2e3136" stroke-width="1.1" fill="none" opacity="0.8"/>
<path d="M515.5,365.9 L466.0,365.9" stroke="#70747a" stroke-width="0.7" fill="none" opacity="0.45"/>
<path d="M77.5,369.0 L127.5,369.0" stroke="#2e3136" stroke-width="1.1" fill="none" opacity="0.8"/>
<path d="M77.5,370.3 L127.5,370.3" stroke="#70747a" stroke-width="0.7" fill="none" opacity="0.45"/>
<path d="M515.5,369.0 L466.0,369.0" stroke="#2e3136" stroke-width="1.1" fill="none" opacity="0.8"/>
<path d="M515.5,370.3 L466.0,370.3" stroke="#70747a" stroke-width="0.7" fill="none" opacity="0.45"/>
<path d="M115,351 L127.5,362.5" stroke="#1e2024" stroke-width="1.3" opacity="0.8"/>
<path d="M478,351 L465.5,362.5" stroke="#1e2024" stroke-width="1.3" opacity="0.8"/>
<circle cx="189.6" cy="347.9" r="7.3" fill="#2a2d31"/>
<circle cx="189.6" cy="347.9" r="5.6" fill="#0a0a0b"/>
<circle cx="188.1" cy="346.09999999999997" r="1.4" fill="#333" opacity="0.6"/>
<circle cx="223.3" cy="347.9" r="7.3" fill="#2a2d31"/>
<circle cx="223.3" cy="347.9" r="5.6" fill="#0a0a0b"/>
<circle cx="221.8" cy="346.09999999999997" r="1.4" fill="#333" opacity="0.6"/>
<text x="179.30" y="361.30" font-size="6.2" text-anchor="start" fill="#e6e6e6" font-weight="normal" textLength="22.40" lengthAdjust="spacingAndGlyphs">Audio in</text>
<path d="M220.6,361.0 L220.6,358.4 A2.8,2.8 0 0 1 226.20000000000002,358.4 L226.20000000000002,361.0" stroke="#e8e8e8" stroke-width="1" fill="none"/>
<rect x="219.70000000000002" y="359.0" width="1.8" height="2.6" rx="0.5" fill="#e8e8e8"/><rect x="225.3" y="359.0" width="1.8" height="2.6" rx="0.5" fill="#e8e8e8"/>
<text x="407.40" y="318.60" font-size="11.2" text-anchor="start" fill="#f2f2f2" font-weight="bold" textLength="46.50" lengthAdjust="spacingAndGlyphs">TESmart</text>
<rect x="407.8" y="320.5" width="7.6" height="7.2" rx="1" fill="#e6e6e6"/>
<text x="411.6" y="326.1" font-size="5" text-anchor="middle" fill="#4e535a" font-weight="bold">TX</text>
<rect x="417.4" y="320.8" width="36" height="6.8" rx="2.6" fill="none" stroke="#e6e6e6" stroke-width="0.9"/>
<text x="419.70" y="325.90" font-size="5" text-anchor="start" fill="#e6e6e6" font-weight="bold" textLength="31.60" lengthAdjust="spacingAndGlyphs">HKE105S-E25</text>
<circle cx="399" cy="352.3" r="2.2" fill="#6d7278" opacity="0.7"/>
<circle cx="399" cy="352.3" r="1.3" fill="#a8aeb4"/>
<circle cx="425" cy="352.3" r="2.2" fill="#6d7278" opacity="0.7"/>
<circle cx="425" cy="352.3" r="1.3" fill="#a8aeb4"/>
<circle cx="450.6" cy="352.3" r="2.2" fill="#6d7278" opacity="0.7"/>
<circle cx="450.6" cy="352.3" r="1.3" fill="#a8aeb4"/>
<text x="390.90" y="360.90" font-size="6.2" text-anchor="start" fill="#ececec" font-weight="normal" textLength="17.40" lengthAdjust="spacingAndGlyphs">Status</text>
<text x="419.30" y="360.90" font-size="6.2" text-anchor="start" fill="#ececec" font-weight="normal" textLength="11.90" lengthAdjust="spacingAndGlyphs">Link</text>
<text x="442.60" y="360.90" font-size="6.2" text-anchor="start" fill="#ececec" font-weight="normal" textLength="17.00" lengthAdjust="spacingAndGlyphs">Power</text>
<polygon points="583,263.5 584.5,262 985,262 1024,303 583,303" fill="url(#gTopR)"/>
<polygon points="583,263.5 584.5,262 985,262 1024,303 583,303" fill="url(#gTopRv)"/>
<text x="0" y="0" font-size="8.5" font-weight="bold" text-anchor="middle" fill="#c8c8c8" opacity="0.42" stroke="#c8c8c8" stroke-width="0.2" textLength="43" lengthAdjust="spacing" transform="translate(792,281.5) scale(-2.6,-0.6)">TESmart</text>
<path d="M583,303 L1024,303 L1024,370.8 Q1024,372.3 1022,372.3 L585,372.3 Q583,372.3 583,370.8 Z" fill="#1c1c1d"/>
<rect x="583" y="303" width="441" height="1.2" fill="#444446"/>
<rect x="583" y="263.5" width="1.5" height="107.30000000000001" fill="#555" opacity="0.6"/>
<circle cx="652.8" cy="344" r="14.1" fill="#dcd8cd"/><circle cx="653.1999999999999" cy="344.6" r="11.6" fill="#b6b2a8"/><circle cx="653.4" cy="344.9" r="10.4" fill="#e2ded4"/><circle cx="653.8" cy="345.8" r="8.6" fill="#080808"/>
<rect x="685.5" y="330" width="41.3" height="29" fill="#e0dcd2"/><path d="M689.5,336.8 L700.5,336.8 L700.5,330 L712.3,330 L712.3,336.8 L722.3,336.8 L722.3,352.7 L689.5,352.7 Z" fill="#0a0a0a"/><rect x="687.7" y="332.3" width="7.8" height="2.4" fill="#6f7556"/><rect x="716.8" y="332.3" width="6.8" height="2.4" fill="#6f7556"/><rect x="689.5" y="352" width="32.8" height="1" fill="#7a776f"/>
<path d="M748,345.0 Q748,342.5 750.5,342.5 L786.0,342.5 Q788.5,342.5 788.5,345.0 L788.5,351.49 L782.0,358.0 L754.5,358.0 L748,351.49 Z" fill="#e0dcd2"/><path d="M750.3,344.8 L786.2,344.8 L786.2,350.56 L780.7,355.7 L755.8,355.7 L750.3,350.56 Z" fill="#0a0a0a"/><rect x="755.5" y="348.7" width="25.5" height="2.6" fill="#2e2e2e"/><rect x="755.5" y="348.7" width="25.5" height="1" fill="#8a877e"/>
<rect x="812" y="331" width="30.5" height="28" fill="#e2ded4"/><path d="M816,335 L838.5,335 L838.5,349 L833.5,355 L821,355 L816,349 Z" fill="#0a0a0a"/><rect x="820" y="339.5" width="14.5" height="8" fill="#4c4c4c"/><rect x="820" y="339.5" width="14.5" height="1.2" fill="#666"/>
<rect x="848" y="332.7" width="27" height="7.6" rx="0.8" fill="none" stroke="#ee7448" stroke-width="1"/>
<rect x="849.6" y="334.3" width="4" height="4.4" rx="0.6" fill="#ee7448"/>
<text x="854.70" y="338.90" font-size="5" text-anchor="start" fill="#ee7448" font-weight="bold" textLength="19.10" lengthAdjust="spacingAndGlyphs">POW ON</text>
<rect x="856" y="347" width="9.5" height="12.6" fill="#050505" stroke="#2e2e2e" stroke-width="0.6"/>
<rect x="859.9" y="349.5" width="1.6" height="1.6" fill="#e0e0e0"/><rect x="859.9" y="354.8" width="1.6" height="1.6" fill="#e0e0e0"/>
<circle cx="884" cy="352.4" r="6.8" fill="#303030"/><circle cx="884" cy="352.4" r="5.1" fill="#060606"/>
<circle cx="918" cy="352.4" r="6.8" fill="#303030"/><circle cx="918" cy="352.4" r="5.1" fill="#060606"/>
<rect x="943.7" y="340.5" width="35.1" height="19.400000000000002" fill="#0a2a0a"/>
<rect x="944.5" y="341.3" width="33.5" height="17.8" fill="#86e07c"/>
<rect x="947.20" y="343.90" width="7.77" height="12.80" fill="#0f6e16"/>
<path d="M948.68,346.80 L951.08,343.30 L953.48,346.80 L952.08,346.80 L952.08,350.30 L950.08,350.30 L950.08,346.80 Z" fill="#9ef094" opacity="0.85"/>
<circle cx="951.08" cy="352.30" r="1.6" fill="none" stroke="#7fd37a" stroke-width="0.7"/>
<rect x="957.37" y="343.90" width="7.77" height="12.80" fill="#0f6e16"/>
<path d="M958.85,346.80 L961.25,343.30 L963.65,346.80 L962.25,346.80 L962.25,350.30 L960.25,350.30 L960.25,346.80 Z" fill="#9ef094" opacity="0.85"/>
<circle cx="961.25" cy="352.30" r="1.6" fill="none" stroke="#7fd37a" stroke-width="0.7"/>
<rect x="967.53" y="343.90" width="7.77" height="12.80" fill="#0f6e16"/>
<path d="M969.02,346.80 L971.42,343.30 L973.82,346.80 L972.42,346.80 L972.42,350.30 L970.42,350.30 L970.42,346.80 Z" fill="#9ef094" opacity="0.85"/>
<circle cx="971.42" cy="352.30" r="1.6" fill="none" stroke="#7fd37a" stroke-width="0.7"/>
<text x="640.00" y="368.80" font-size="7" text-anchor="start" fill="#ee7448" font-weight="bold" textLength="24.10" lengthAdjust="spacingAndGlyphs">DC 12V</text>
<text x="698.40" y="368.80" font-size="7" text-anchor="start" fill="#ee7448" font-weight="bold" textLength="14.20" lengthAdjust="spacingAndGlyphs">UTP</text>
<text x="756.90" y="368.80" font-size="7" text-anchor="start" fill="#ee7448" font-weight="bold" textLength="21.10" lengthAdjust="spacingAndGlyphs">INPUT</text>
<text x="820.40" y="368.80" font-size="7" text-anchor="start" fill="#ee7448" font-weight="bold" textLength="14.40" lengthAdjust="spacingAndGlyphs">USB</text>
<text x="873.90" y="368.80" font-size="7" text-anchor="start" fill="#ee7448" font-weight="bold" textLength="20.70" lengthAdjust="spacingAndGlyphs">IR out</text>
<text x="909.90" y="368.80" font-size="7" text-anchor="start" fill="#ee7448" font-weight="bold" textLength="15.90" lengthAdjust="spacingAndGlyphs">IR in</text>
<text x="947.45" y="368.80" font-size="7" text-anchor="start" fill="#ee7448" font-weight="bold" textLength="8.60" lengthAdjust="spacingAndGlyphs">TX</text>
<text x="965.70" y="368.80" font-size="7" text-anchor="start" fill="#ee7448" font-weight="bold" textLength="9.60" lengthAdjust="spacingAndGlyphs">RX</text>
<path d="M961.3,362.3 L961.3,365.8" stroke="#ee7448" stroke-width="1.1"/><path d="M957.5,365.6 Q961.3,366.8 965.0999999999999,365.6 L963.5,368.8 L959.0999999999999,368.8 Z" fill="#ee7448"/>
<line x1="223.5" y1="226.5" x2="223.5" y2="335" stroke="#bfbfbf" stroke-width="1.45"/>
<circle cx="223.5" cy="226.5" r="3.4" fill="#bdbdbd"/>
<line x1="189.5" y1="364" x2="189.5" y2="411.5" stroke="#bfbfbf" stroke-width="1.45"/>
<circle cx="189" cy="411.5" r="3.4" fill="#bdbdbd"/>
<line x1="396.15" y1="376.5" x2="452.85" y2="376.5" stroke="#bfbfbf" stroke-width="1.45"/>
<line x1="397" y1="365" x2="397" y2="376.5" stroke="#bfbfbf" stroke-width="1.45"/>
<line x1="452" y1="365" x2="452" y2="376.5" stroke="#bfbfbf" stroke-width="1.45"/>
<line x1="425" y1="365" x2="425" y2="411.5" stroke="#bfbfbf" stroke-width="1.45"/>
<circle cx="424.7" cy="411.5" r="3.4" fill="#bdbdbd"/>
<line x1="706" y1="227.5" x2="706" y2="322" stroke="#bfbfbf" stroke-width="1.45"/>
<circle cx="705.7" cy="227.5" r="3.4" fill="#bdbdbd"/>
<line x1="827" y1="227.5" x2="827" y2="322" stroke="#bfbfbf" stroke-width="1.45"/>
<circle cx="827" cy="227.5" r="3.4" fill="#bdbdbd"/>
<line x1="900.15" y1="227.8" x2="949.85" y2="227.8" stroke="#bfbfbf" stroke-width="1.45"/>
<line x1="901" y1="227.8" x2="901" y2="322.5" stroke="#bfbfbf" stroke-width="1.45"/>
<circle cx="949" cy="227.8" r="3.4" fill="#bdbdbd"/>
<line x1="883.15" y1="322.5" x2="918.85" y2="322.5" stroke="#bfbfbf" stroke-width="1.45"/>
<line x1="884" y1="322.5" x2="884" y2="342.5" stroke="#bfbfbf" stroke-width="1.45"/>
<line x1="918" y1="322.5" x2="918" y2="342.5" stroke="#bfbfbf" stroke-width="1.45"/>
<line x1="653" y1="376" x2="653" y2="411.8" stroke="#bfbfbf" stroke-width="1.45"/>
<circle cx="653" cy="411.8" r="3.4" fill="#bdbdbd"/>
<line x1="768.5" y1="376" x2="768.5" y2="411.8" stroke="#bfbfbf" stroke-width="1.45"/>
<circle cx="768.2" cy="411.8" r="3.4" fill="#bdbdbd"/>
<line x1="860.6" y1="362" x2="860.6" y2="411.8" stroke="#bfbfbf" stroke-width="1.45"/>
<circle cx="860.3" cy="411.8" r="3.4" fill="#bdbdbd"/>
<line x1="961.5" y1="376" x2="961.5" y2="411.8" stroke="#bfbfbf" stroke-width="1.45"/>
<circle cx="961.5" cy="411.8" r="3.4" fill="#bdbdbd"/>
<text x="223.90" y="216.20" font-size="23.4" text-anchor="middle" fill="#474747" font-weight="normal" textLength="149.60" lengthAdjust="spacingAndGlyphs">Audioeingang</text>
<text x="189.80" y="438.50" font-size="23.4" text-anchor="middle" fill="#474747" font-weight="normal" textLength="155.60" lengthAdjust="spacingAndGlyphs">Audioausgang</text>
<text x="424.30" y="438.80" font-size="23.4" text-anchor="middle" fill="#474747" font-weight="normal" textLength="83.90" lengthAdjust="spacingAndGlyphs">Anzeige</text>
<text x="699.80" y="193.20" font-size="23.4" text-anchor="middle" fill="#474747" font-weight="normal" textLength="44.60" lengthAdjust="spacingAndGlyphs">LAN</text>
<text x="703.10" y="215.60" font-size="23.4" text-anchor="middle" fill="#474747" font-weight="normal" textLength="46.30" lengthAdjust="spacingAndGlyphs">port</text>
<text x="823.10" y="193.20" font-size="23.4" text-anchor="middle" fill="#474747" font-weight="normal" textLength="44.40" lengthAdjust="spacingAndGlyphs">USB</text>
<text x="826.00" y="215.60" font-size="23.4" text-anchor="middle" fill="#474747" font-weight="normal" textLength="47.60" lengthAdjust="spacingAndGlyphs">port</text>
<text x="959.40" y="194.50" font-size="23.4" text-anchor="middle" fill="#474747" font-weight="normal" textLength="164.40" lengthAdjust="spacingAndGlyphs">IR (Ausgangsport/</text>
<text x="959.90" y="216.80" font-size="23.4" text-anchor="middle" fill="#474747" font-weight="normal" textLength="128.90" lengthAdjust="spacingAndGlyphs">Eingangsport)</text>
<text x="651.00" y="438.20" font-size="23.4" text-anchor="middle" fill="#474747" font-weight="normal" textLength="77.10" lengthAdjust="spacingAndGlyphs">DC 12V</text>
<text x="768.50" y="438.20" font-size="23.4" text-anchor="middle" fill="#474747" font-weight="normal" textLength="64.60" lengthAdjust="spacingAndGlyphs">HDMI-</text>
<text x="767.80" y="461.00" font-size="23.4" text-anchor="middle" fill="#474747" font-weight="normal" textLength="130.90" lengthAdjust="spacingAndGlyphs">Eingangsport</text>
<text x="860.10" y="438.20" font-size="23.4" text-anchor="middle" fill="#474747" font-weight="normal" textLength="50.60" lengthAdjust="spacingAndGlyphs">PWR</text>
<text x="862.30" y="461.00" font-size="23.4" text-anchor="middle" fill="#474747" font-weight="normal" textLength="35.00" lengthAdjust="spacingAndGlyphs">ON</text>
<text x="960.50" y="438.20" font-size="23.4" text-anchor="middle" fill="#474747" font-weight="normal" textLength="66.60" lengthAdjust="spacingAndGlyphs">RS232</text>
<text x="961.00" y="461.00" font-size="23.4" text-anchor="middle" fill="#474747" font-weight="normal" textLength="46.30" lengthAdjust="spacingAndGlyphs">port</text>
<polygon points="113.5,776.5 515,776.5 517.5,778.5 517.5,817.3 75,817.3" fill="url(#gTopF2)"/>
<polygon points="113.5,776.5 515,776.5 517.5,778.5 517.5,817.3 75,817.3" fill="url(#gTopFv)"/>
<text x="0" y="0" font-size="8.5" font-weight="bold" text-anchor="middle" fill="#c8c8c8" opacity="0.45" stroke="#c8c8c8" stroke-width="0.4" textLength="43" lengthAdjust="spacing" transform="translate(308,796.3) scale(2.6,0.6)">TESmart</text>
<path d="M75,817.3 L517.5,817.3 L517.5,885 Q517.5,887 515.5,887 L78,887 Q76,887 76,885 Z" fill="#4b4f55"/>
<rect x="85.2" y="885.9" width="31.0" height="1.0" fill="#000000" opacity="0.063"/>
<rect x="373.5" y="877.4" width="85.3" height="0.7" fill="#ffffff" opacity="0.067"/>
<rect x="176.7" y="867.6" width="29.1" height="1.0" fill="#000000" opacity="0.053"/>
<rect x="271.4" y="862.5" width="79.1" height="1.0" fill="#ffffff" opacity="0.046"/>
<rect x="335.9" y="868.0" width="85.2" height="1.0" fill="#ffffff" opacity="0.047"/>
<rect x="86.5" y="833.8" width="45.3" height="1.3" fill="#ffffff" opacity="0.029"/>
<rect x="484.2" y="846.2" width="31.8" height="0.7" fill="#ffffff" opacity="0.031"/>
<rect x="160.9" y="824.6" width="59.6" height="0.7" fill="#ffffff" opacity="0.033"/>
<rect x="185.5" y="876.6" width="48.5" height="1.0" fill="#ffffff" opacity="0.051"/>
<rect x="281.8" y="865.4" width="83.6" height="1.3" fill="#ffffff" opacity="0.070"/>
<rect x="106.1" y="830.0" width="87.8" height="1.0" fill="#000000" opacity="0.070"/>
<rect x="370.8" y="824.7" width="68.1" height="0.7" fill="#ffffff" opacity="0.051"/>
<rect x="76.0" y="839.3" width="85.8" height="1.3" fill="#ffffff" opacity="0.027"/>
<rect x="440.2" y="830.2" width="51.3" height="1.0" fill="#ffffff" opacity="0.073"/>
<rect x="79.2" y="825.9" width="63.6" height="1.3" fill="#000000" opacity="0.053"/>
<rect x="190.2" y="825.9" width="55.2" height="1.3" fill="#ffffff" opacity="0.042"/>
<rect x="449.5" y="822.6" width="56.3" height="0.7" fill="#ffffff" opacity="0.054"/>
<rect x="270.0" y="839.4" width="73.1" height="1.3" fill="#ffffff" opacity="0.075"/>
<rect x="326.9" y="835.1" width="55.5" height="0.7" fill="#ffffff" opacity="0.062"/>
<rect x="341.4" y="825.8" width="43.5" height="1.3" fill="#000000" opacity="0.067"/>
<rect x="326.1" y="865.3" width="45.5" height="1.0" fill="#ffffff" opacity="0.068"/>
<rect x="479.1" y="850.6" width="36.9" height="0.7" fill="#ffffff" opacity="0.064"/>
<rect x="163.6" y="879.4" width="40.2" height="0.7" fill="#000000" opacity="0.069"/>
<rect x="103.9" y="847.8" width="64.4" height="1.3" fill="#ffffff" opacity="0.063"/>
<rect x="232.5" y="838.6" width="23.0" height="1.3" fill="#ffffff" opacity="0.039"/>
<rect x="376.9" y="883.0" width="23.1" height="1.0" fill="#ffffff" opacity="0.056"/>
<rect x="181.3" y="869.0" width="62.1" height="1.0" fill="#000000" opacity="0.057"/>
<rect x="251.2" y="844.6" width="88.7" height="0.7" fill="#000000" opacity="0.026"/>
<rect x="377.8" y="845.1" width="37.4" height="1.0" fill="#000000" opacity="0.026"/>
<rect x="294.5" y="849.7" width="50.6" height="1.3" fill="#000000" opacity="0.053"/>
<rect x="193.3" y="855.8" width="80.3" height="1.3" fill="#ffffff" opacity="0.074"/>
<rect x="476.7" y="833.2" width="39.3" height="0.7" fill="#ffffff" opacity="0.040"/>
<rect x="277.4" y="863.4" width="73.5" height="1.0" fill="#000000" opacity="0.072"/>
<rect x="156.9" y="874.5" width="36.6" height="0.7" fill="#ffffff" opacity="0.057"/>
<rect x="354.2" y="844.4" width="82.0" height="1.3" fill="#ffffff" opacity="0.069"/>
<rect x="415.0" y="855.1" width="73.3" height="1.0" fill="#ffffff" opacity="0.062"/>
<rect x="488.3" y="854.0" width="27.7" height="1.0" fill="#ffffff" opacity="0.026"/>
<rect x="261.1" y="874.4" width="83.5" height="1.3" fill="#000000" opacity="0.069"/>
<rect x="157.2" y="840.4" width="86.9" height="0.7" fill="#ffffff" opacity="0.030"/>
<rect x="309.8" y="877.0" width="24.4" height="0.7" fill="#000000" opacity="0.073"/>
<rect x="304.0" y="877.4" width="20.3" height="0.7" fill="#ffffff" opacity="0.047"/>
<rect x="76.0" y="847.4" width="89.5" height="1.3" fill="#000000" opacity="0.048"/>
<rect x="205.0" y="868.1" width="78.6" height="0.7" fill="#ffffff" opacity="0.050"/>
<rect x="366.5" y="883.4" width="65.6" height="0.7" fill="#ffffff" opacity="0.054"/>
<rect x="134.3" y="856.2" width="16.0" height="0.7" fill="#ffffff" opacity="0.056"/>
<rect x="162.7" y="833.9" width="67.6" height="1.3" fill="#ffffff" opacity="0.059"/>
<rect x="99.3" y="868.1" width="86.8" height="1.3" fill="#ffffff" opacity="0.072"/>
<rect x="276.7" y="839.9" width="60.7" height="0.7" fill="#000000" opacity="0.062"/>
<rect x="350.1" y="856.5" width="73.4" height="0.7" fill="#000000" opacity="0.030"/>
<rect x="76.0" y="853.0" width="83.6" height="0.7" fill="#ffffff" opacity="0.066"/>
<rect x="332.2" y="820.8" width="28.3" height="0.7" fill="#ffffff" opacity="0.060"/>
<rect x="76.0" y="846.4" width="78.7" height="0.7" fill="#000000" opacity="0.029"/>
<rect x="175.3" y="868.0" width="31.0" height="1.0" fill="#000000" opacity="0.039"/>
<rect x="401.3" y="864.6" width="63.8" height="0.7" fill="#000000" opacity="0.039"/>
<rect x="76.0" y="863.4" width="69.2" height="1.3" fill="#ffffff" opacity="0.052"/>
<rect x="286.9" y="828.0" width="53.3" height="1.3" fill="#ffffff" opacity="0.048"/>
<rect x="332.2" y="834.2" width="24.0" height="1.0" fill="#000000" opacity="0.072"/>
<rect x="441.3" y="832.0" width="59.6" height="0.7" fill="#ffffff" opacity="0.063"/>
<rect x="80.7" y="859.9" width="75.1" height="0.7" fill="#000000" opacity="0.041"/>
<rect x="139.9" y="885.8" width="70.1" height="0.7" fill="#ffffff" opacity="0.065"/>
<rect x="233.0" y="864.8" width="65.9" height="1.0" fill="#ffffff" opacity="0.032"/>
<rect x="338.2" y="819.4" width="82.8" height="1.0" fill="#000000" opacity="0.035"/>
<rect x="301.2" y="851.4" width="41.1" height="1.3" fill="#ffffff" opacity="0.051"/>
<rect x="203.1" y="827.3" width="77.2" height="1.0" fill="#ffffff" opacity="0.060"/>
<rect x="360.2" y="851.2" width="82.0" height="1.0" fill="#ffffff" opacity="0.061"/>
<rect x="198.8" y="862.4" width="81.9" height="1.3" fill="#ffffff" opacity="0.063"/>
<rect x="97.5" y="857.8" width="22.9" height="1.3" fill="#000000" opacity="0.050"/>
<rect x="307.5" y="858.1" width="63.1" height="1.0" fill="#000000" opacity="0.053"/>
<rect x="229.3" y="882.9" width="60.3" height="1.3" fill="#ffffff" opacity="0.069"/>
<rect x="94.6" y="847.6" width="79.5" height="1.3" fill="#ffffff" opacity="0.075"/>
<rect x="148.5" y="877.2" width="75.7" height="0.7" fill="#ffffff" opacity="0.064"/>
<rect x="76.0" y="826.1" width="83.8" height="1.0" fill="#ffffff" opacity="0.049"/>
<rect x="201.9" y="864.7" width="55.3" height="1.0" fill="#000000" opacity="0.025"/>
<rect x="76.0" y="866.4" width="51.8" height="1.0" fill="#ffffff" opacity="0.061"/>
<rect x="89.5" y="867.4" width="49.7" height="1.3" fill="#000000" opacity="0.057"/>
<rect x="91.3" y="881.8" width="84.1" height="1.0" fill="#ffffff" opacity="0.069"/>
<rect x="224.9" y="863.4" width="33.8" height="1.0" fill="#ffffff" opacity="0.032"/>
<rect x="163.6" y="830.9" width="58.8" height="0.7" fill="#ffffff" opacity="0.032"/>
<rect x="115.8" y="885.4" width="45.0" height="1.3" fill="#ffffff" opacity="0.043"/>
<rect x="457.9" y="852.9" width="58.1" height="1.0" fill="#ffffff" opacity="0.026"/>
<rect x="449.2" y="848.2" width="46.0" height="1.3" fill="#000000" opacity="0.060"/>
<rect x="271.8" y="869.5" width="33.7" height="1.0" fill="#ffffff" opacity="0.061"/>
<rect x="95.3" y="846.3" width="86.3" height="1.0" fill="#ffffff" opacity="0.030"/>
<rect x="455.0" y="876.6" width="52.6" height="1.3" fill="#ffffff" opacity="0.037"/>
<rect x="174.6" y="845.2" width="32.4" height="1.3" fill="#000000" opacity="0.065"/>
<rect x="398.5" y="847.4" width="65.5" height="1.0" fill="#000000" opacity="0.052"/>
<rect x="331.8" y="876.4" width="62.5" height="1.3" fill="#ffffff" opacity="0.039"/>
<rect x="254.1" y="853.3" width="84.4" height="0.7" fill="#000000" opacity="0.064"/>
<rect x="112.9" y="877.9" width="61.3" height="1.0" fill="#ffffff" opacity="0.066"/>
<rect x="285.6" y="877.3" width="57.6" height="1.0" fill="#ffffff" opacity="0.047"/>
<rect x="464.1" y="845.1" width="51.9" height="0.7" fill="#ffffff" opacity="0.062"/>
<rect x="434.8" y="843.6" width="16.4" height="0.7" fill="#ffffff" opacity="0.071"/>
<rect x="76.0" y="855.4" width="88.7" height="0.7" fill="#ffffff" opacity="0.059"/>
<rect x="80.6" y="829.5" width="85.0" height="1.0" fill="#ffffff" opacity="0.061"/>
<rect x="366.9" y="838.1" width="16.6" height="0.7" fill="#ffffff" opacity="0.028"/>
<rect x="93.1" y="848.1" width="53.3" height="0.7" fill="#ffffff" opacity="0.041"/>
<rect x="130.1" y="863.0" width="71.7" height="0.7" fill="#000000" opacity="0.066"/>
<rect x="164.1" y="823.1" width="73.3" height="1.3" fill="#ffffff" opacity="0.040"/>
<rect x="143.1" y="883.2" width="42.5" height="1.0" fill="#ffffff" opacity="0.039"/>
<rect x="80.7" y="853.5" width="57.1" height="1.0" fill="#ffffff" opacity="0.031"/>
<rect x="363.1" y="848.6" width="32.7" height="0.7" fill="#ffffff" opacity="0.061"/>
<rect x="458.6" y="826.6" width="30.3" height="1.3" fill="#000000" opacity="0.052"/>
<rect x="298.2" y="850.9" width="84.0" height="0.7" fill="#000000" opacity="0.030"/>
<rect x="208.6" y="869.5" width="59.5" height="0.7" fill="#ffffff" opacity="0.064"/>
<rect x="76.0" y="850.4" width="73.3" height="0.7" fill="#ffffff" opacity="0.058"/>
<rect x="456.6" y="845.0" width="21.7" height="0.7" fill="#ffffff" opacity="0.048"/>
<rect x="76.0" y="869.8" width="62.5" height="1.0" fill="#000000" opacity="0.072"/>
<rect x="150.5" y="853.6" width="76.3" height="1.3" fill="#000000" opacity="0.055"/>
<rect x="76.0" y="859.2" width="32.2" height="1.0" fill="#000000" opacity="0.071"/>
<rect x="486.3" y="823.2" width="18.3" height="0.7" fill="#000000" opacity="0.057"/>
<rect x="388.3" y="883.2" width="30.2" height="1.3" fill="#ffffff" opacity="0.064"/>
<rect x="269.4" y="854.0" width="67.8" height="1.0" fill="#ffffff" opacity="0.057"/>
<rect x="108.3" y="833.9" width="35.6" height="1.3" fill="#000000" opacity="0.031"/>
<rect x="240.1" y="869.2" width="50.1" height="1.0" fill="#ffffff" opacity="0.037"/>
<rect x="452.1" y="877.3" width="63.9" height="1.0" fill="#ffffff" opacity="0.057"/>
<rect x="493.7" y="844.1" width="22.3" height="0.7" fill="#000000" opacity="0.073"/>
<rect x="439.8" y="879.4" width="45.0" height="1.3" fill="#ffffff" opacity="0.037"/>
<rect x="229.6" y="868.0" width="26.2" height="1.0" fill="#ffffff" opacity="0.065"/>
<rect x="301.8" y="843.8" width="57.0" height="1.3" fill="#ffffff" opacity="0.070"/>
<rect x="94.3" y="838.1" width="53.3" height="1.0" fill="#ffffff" opacity="0.065"/>
<rect x="142.4" y="843.2" width="52.9" height="1.3" fill="#000000" opacity="0.045"/>
<rect x="265.6" y="868.3" width="59.6" height="1.3" fill="#ffffff" opacity="0.025"/>
<rect x="117.3" y="829.5" width="15.1" height="1.0" fill="#ffffff" opacity="0.059"/>
<rect x="325.0" y="870.9" width="57.0" height="1.0" fill="#ffffff" opacity="0.059"/>
<rect x="244.5" y="847.2" width="76.0" height="1.3" fill="#ffffff" opacity="0.053"/>
<rect x="419.9" y="827.2" width="44.9" height="1.0" fill="#ffffff" opacity="0.051"/>
<rect x="177.7" y="860.9" width="84.3" height="0.7" fill="#ffffff" opacity="0.031"/>
<rect x="468.8" y="884.6" width="17.3" height="0.7" fill="#ffffff" opacity="0.059"/>
<rect x="451.6" y="836.5" width="64.4" height="0.7" fill="#ffffff" opacity="0.035"/>
<rect x="458.7" y="860.0" width="43.9" height="1.3" fill="#ffffff" opacity="0.057"/>
<rect x="383.9" y="867.5" width="74.6" height="1.0" fill="#ffffff" opacity="0.038"/>
<rect x="425.6" y="883.5" width="43.4" height="1.3" fill="#ffffff" opacity="0.039"/>
<rect x="415.7" y="876.2" width="25.2" height="0.7" fill="#000000" opacity="0.067"/>
<rect x="478.9" y="845.9" width="37.1" height="1.0" fill="#ffffff" opacity="0.063"/>
<rect x="329.0" y="849.7" width="46.2" height="1.3" fill="#ffffff" opacity="0.062"/>
<rect x="368.4" y="847.2" width="26.7" height="1.0" fill="#ffffff" opacity="0.070"/>
<rect x="269.2" y="861.9" width="73.0" height="1.0" fill="#ffffff" opacity="0.030"/>
<rect x="86.3" y="884.7" width="15.6" height="0.7" fill="#000000" opacity="0.053"/>
<rect x="107.2" y="852.4" width="78.3" height="1.3" fill="#ffffff" opacity="0.044"/>
<rect x="312.7" y="836.3" width="78.0" height="0.7" fill="#000000" opacity="0.025"/>
<rect x="198.6" y="834.7" width="35.9" height="1.3" fill="#000000" opacity="0.074"/>
<rect x="465.7" y="831.0" width="50.3" height="0.7" fill="#000000" opacity="0.026"/>
<rect x="329.8" y="833.0" width="79.5" height="1.3" fill="#ffffff" opacity="0.070"/>
<rect x="383.7" y="820.8" width="16.0" height="1.0" fill="#ffffff" opacity="0.047"/>
<rect x="243.6" y="822.9" width="72.8" height="1.3" fill="#000000" opacity="0.065"/>
<rect x="139.3" y="826.0" width="82.1" height="1.0" fill="#ffffff" opacity="0.072"/>
<rect x="186.4" y="846.0" width="59.5" height="0.7" fill="#000000" opacity="0.030"/>
<rect x="281.3" y="824.8" width="52.7" height="1.3" fill="#ffffff" opacity="0.071"/>
<rect x="82.5" y="835.9" width="70.6" height="1.0" fill="#000000" opacity="0.059"/>
<rect x="165.2" y="847.6" width="45.6" height="0.7" fill="#ffffff" opacity="0.065"/>
<rect x="111.5" y="855.2" width="74.3" height="1.3" fill="#000000" opacity="0.037"/>
<rect x="225.7" y="884.8" width="63.8" height="0.7" fill="#ffffff" opacity="0.045"/>
<rect x="124.9" y="836.5" width="32.9" height="0.7" fill="#ffffff" opacity="0.045"/>
<rect x="231.4" y="853.1" width="77.4" height="1.0" fill="#ffffff" opacity="0.033"/>
<rect x="296.7" y="833.3" width="19.3" height="1.0" fill="#000000" opacity="0.075"/>
<rect x="393.6" y="844.5" width="22.5" height="0.7" fill="#ffffff" opacity="0.049"/>
<rect x="161.4" y="842.7" width="60.1" height="1.0" fill="#000000" opacity="0.054"/>
<rect x="211.2" y="839.8" width="53.5" height="0.7" fill="#ffffff" opacity="0.027"/>
<rect x="123.6" y="821.9" width="27.9" height="0.7" fill="#ffffff" opacity="0.075"/>
<rect x="254.5" y="830.3" width="25.8" height="1.3" fill="#ffffff" opacity="0.066"/>
<rect x="76.0" y="823.5" width="32.4" height="1.0" fill="#ffffff" opacity="0.030"/>
<rect x="429.1" y="835.8" width="63.5" height="1.3" fill="#000000" opacity="0.051"/>
<rect x="333.8" y="875.9" width="69.9" height="0.7" fill="#000000" opacity="0.052"/>
<rect x="342.0" y="820.1" width="16.5" height="0.7" fill="#ffffff" opacity="0.062"/>
<rect x="152.5" y="875.0" width="57.4" height="1.0" fill="#000000" opacity="0.046"/>
<rect x="303.8" y="847.9" width="29.7" height="1.0" fill="#000000" opacity="0.051"/>
<rect x="91.3" y="831.0" width="49.7" height="0.7" fill="#ffffff" opacity="0.053"/>
<rect x="303.8" y="883.0" width="45.3" height="1.3" fill="#ffffff" opacity="0.051"/>
<rect x="409.2" y="837.2" width="68.5" height="1.3" fill="#000000" opacity="0.064"/>
<rect x="216.4" y="823.2" width="40.9" height="1.0" fill="#ffffff" opacity="0.046"/>
<rect x="362.5" y="844.0" width="87.9" height="1.0" fill="#ffffff" opacity="0.025"/>
<rect x="260.2" y="855.7" width="88.0" height="0.7" fill="#ffffff" opacity="0.048"/>
<rect x="443.3" y="877.0" width="72.7" height="1.3" fill="#000000" opacity="0.043"/>
<rect x="405.7" y="868.9" width="80.8" height="1.3" fill="#000000" opacity="0.055"/>
<rect x="400.1" y="845.0" width="85.4" height="0.7" fill="#ffffff" opacity="0.067"/>
<rect x="241.3" y="877.2" width="82.6" height="0.7" fill="#000000" opacity="0.039"/>
<rect x="136.0" y="854.0" width="81.6" height="1.0" fill="#000000" opacity="0.068"/>
<rect x="244.1" y="876.9" width="34.4" height="1.0" fill="#ffffff" opacity="0.051"/>
<rect x="202.7" y="852.5" width="84.0" height="0.7" fill="#ffffff" opacity="0.068"/>
<rect x="256.0" y="872.8" width="80.3" height="1.0" fill="#000000" opacity="0.045"/>
<rect x="322.5" y="884.4" width="38.4" height="0.7" fill="#ffffff" opacity="0.053"/>
<rect x="307.4" y="823.4" width="32.9" height="0.7" fill="#ffffff" opacity="0.031"/>
<rect x="373.6" y="826.5" width="32.6" height="1.3" fill="#ffffff" opacity="0.061"/>
<rect x="409.0" y="881.2" width="66.1" height="1.3" fill="#ffffff" opacity="0.041"/>
<rect x="373.8" y="854.3" width="33.0" height="0.7" fill="#ffffff" opacity="0.045"/>
<rect x="362.8" y="835.3" width="64.7" height="1.0" fill="#ffffff" opacity="0.050"/>
<rect x="152.2" y="856.1" width="60.9" height="0.7" fill="#ffffff" opacity="0.045"/>
<rect x="319.2" y="840.2" width="71.4" height="0.7" fill="#ffffff" opacity="0.049"/>
<rect x="321.2" y="848.0" width="31.0" height="1.0" fill="#000000" opacity="0.049"/>
<rect x="171.2" y="880.4" width="44.2" height="0.7" fill="#000000" opacity="0.048"/>
<rect x="76.0" y="858.5" width="66.4" height="1.0" fill="#ffffff" opacity="0.061"/>
<rect x="76.0" y="851.9" width="69.7" height="1.0" fill="#ffffff" opacity="0.048"/>
<rect x="316.7" y="848.3" width="29.3" height="0.7" fill="#ffffff" opacity="0.053"/>
<rect x="84.4" y="827.2" width="67.3" height="1.0" fill="#ffffff" opacity="0.043"/>
<rect x="459.6" y="860.4" width="56.4" height="0.7" fill="#ffffff" opacity="0.063"/>
<rect x="394.8" y="841.2" width="30.8" height="1.3" fill="#ffffff" opacity="0.062"/>
<rect x="337.3" y="857.8" width="80.1" height="1.3" fill="#000000" opacity="0.029"/>
<rect x="372.1" y="851.6" width="16.1" height="1.0" fill="#ffffff" opacity="0.057"/>
<rect x="357.8" y="838.2" width="65.6" height="1.3" fill="#ffffff" opacity="0.063"/>
<rect x="219.2" y="824.4" width="55.0" height="1.0" fill="#000000" opacity="0.053"/>
<rect x="284.2" y="820.1" width="61.1" height="0.7" fill="#ffffff" opacity="0.051"/>
<rect x="213.0" y="881.5" width="52.8" height="1.3" fill="#ffffff" opacity="0.049"/>
<rect x="463.6" y="871.1" width="52.4" height="1.3" fill="#000000" opacity="0.029"/>
<rect x="200.3" y="832.2" width="73.2" height="0.7" fill="#ffffff" opacity="0.043"/>
<rect x="176.1" y="829.1" width="19.7" height="0.7" fill="#ffffff" opacity="0.044"/>
<rect x="174.5" y="881.7" width="81.4" height="0.7" fill="#ffffff" opacity="0.041"/>
<rect x="276.5" y="865.0" width="66.8" height="1.3" fill="#ffffff" opacity="0.059"/>
<rect x="478.9" y="878.4" width="20.1" height="1.3" fill="#000000" opacity="0.028"/>
<rect x="315.6" y="840.6" width="64.6" height="1.3" fill="#000000" opacity="0.061"/>
<rect x="349.2" y="824.6" width="20.5" height="1.0" fill="#ffffff" opacity="0.059"/>
<rect x="455.5" y="863.7" width="43.1" height="0.7" fill="#ffffff" opacity="0.038"/>
<rect x="76.0" y="856.4" width="68.7" height="1.0" fill="#000000" opacity="0.046"/>
<rect x="267.4" y="872.9" width="70.0" height="1.0" fill="#ffffff" opacity="0.059"/>
<rect x="245.5" y="833.4" width="17.0" height="0.7" fill="#000000" opacity="0.074"/>
<rect x="282.4" y="824.0" width="15.3" height="0.7" fill="#ffffff" opacity="0.042"/>
<rect x="76.0" y="824.6" width="66.1" height="0.7" fill="#000000" opacity="0.057"/>
<rect x="413.4" y="838.3" width="18.6" height="0.7" fill="#ffffff" opacity="0.041"/>
<rect x="182.1" y="858.3" width="35.6" height="1.0" fill="#000000" opacity="0.040"/>
<rect x="93.3" y="881.3" width="54.5" height="1.3" fill="#ffffff" opacity="0.030"/>
<rect x="76.0" y="849.0" width="81.3" height="1.3" fill="#000000" opacity="0.061"/>
<rect x="480.0" y="825.7" width="36.0" height="1.0" fill="#ffffff" opacity="0.073"/>
<rect x="259.5" y="854.7" width="89.1" height="1.0" fill="#ffffff" opacity="0.047"/>
<rect x="217.2" y="881.2" width="89.7" height="1.3" fill="#ffffff" opacity="0.074"/>
<rect x="139.6" y="821.2" width="47.4" height="1.3" fill="#ffffff" opacity="0.065"/>
<rect x="122.6" y="869.0" width="81.0" height="1.0" fill="#ffffff" opacity="0.037"/>
<rect x="328.7" y="866.2" width="27.2" height="0.7" fill="#ffffff" opacity="0.062"/>
<rect x="382.9" y="840.3" width="46.6" height="1.0" fill="#000000" opacity="0.062"/>
<rect x="113.5" y="830.6" width="32.3" height="1.0" fill="#ffffff" opacity="0.060"/>
<rect x="132.6" y="864.6" width="57.9" height="1.0" fill="#ffffff" opacity="0.041"/>
<rect x="253.2" y="868.4" width="73.7" height="0.7" fill="#ffffff" opacity="0.049"/>
<rect x="353.4" y="865.5" width="30.8" height="0.7" fill="#ffffff" opacity="0.051"/>
<rect x="307.0" y="853.2" width="73.5" height="0.7" fill="#ffffff" opacity="0.048"/>
<rect x="245.6" y="822.8" width="72.5" height="1.0" fill="#ffffff" opacity="0.036"/>
<rect x="276.8" y="835.6" width="82.5" height="1.0" fill="#ffffff" opacity="0.057"/>
<rect x="213.4" y="822.8" width="55.0" height="1.0" fill="#ffffff" opacity="0.067"/>
<rect x="159.8" y="862.8" width="86.1" height="1.3" fill="#ffffff" opacity="0.062"/>
<rect x="76.0" y="872.9" width="55.0" height="0.7" fill="#ffffff" opacity="0.041"/>
<rect x="232.0" y="883.7" width="87.7" height="1.0" fill="#000000" opacity="0.033"/>
<rect x="336.9" y="831.9" width="59.7" height="1.0" fill="#000000" opacity="0.074"/>
<rect x="126.1" y="880.4" width="21.9" height="0.7" fill="#000000" opacity="0.072"/>
<rect x="496.0" y="860.6" width="20.0" height="1.3" fill="#ffffff" opacity="0.058"/>
<rect x="302.4" y="852.7" width="57.3" height="0.7" fill="#ffffff" opacity="0.040"/>
<rect x="490.8" y="832.2" width="25.2" height="0.7" fill="#ffffff" opacity="0.062"/>
<rect x="105.9" y="870.9" width="84.9" height="1.0" fill="#ffffff" opacity="0.059"/>
<rect x="286.3" y="827.7" width="33.6" height="1.0" fill="#ffffff" opacity="0.035"/>
<rect x="172.0" y="866.9" width="89.4" height="0.7" fill="#ffffff" opacity="0.062"/>
<rect x="145.3" y="858.0" width="22.4" height="1.3" fill="#000000" opacity="0.071"/>
<rect x="273.6" y="883.7" width="22.3" height="1.3" fill="#ffffff" opacity="0.031"/>
<rect x="352.2" y="877.9" width="77.5" height="1.0" fill="#ffffff" opacity="0.053"/>
<rect x="310.4" y="845.5" width="21.5" height="1.0" fill="#ffffff" opacity="0.038"/>
<rect x="174.3" y="842.3" width="17.4" height="1.3" fill="#ffffff" opacity="0.027"/>
<rect x="76.0" y="853.0" width="37.7" height="1.0" fill="#ffffff" opacity="0.054"/>
<rect x="217.7" y="863.6" width="31.3" height="1.0" fill="#ffffff" opacity="0.071"/>
<rect x="321.4" y="870.1" width="55.1" height="0.7" fill="#ffffff" opacity="0.035"/>
<rect x="365.1" y="840.5" width="56.7" height="1.3" fill="#000000" opacity="0.056"/>
<rect x="167.9" y="842.5" width="35.8" height="0.7" fill="#000000" opacity="0.032"/>
<rect x="393.5" y="854.1" width="70.2" height="1.0" fill="#000000" opacity="0.051"/>
<rect x="491.3" y="825.9" width="24.7" height="0.7" fill="#ffffff" opacity="0.039"/>
<rect x="389.1" y="860.1" width="25.8" height="1.3" fill="#000000" opacity="0.068"/>
<rect x="126.0" y="842.4" width="86.3" height="0.7" fill="#000000" opacity="0.069"/>
<rect x="318.7" y="876.4" width="77.5" height="1.3" fill="#000000" opacity="0.072"/>
<rect x="200.4" y="868.7" width="75.6" height="1.3" fill="#ffffff" opacity="0.061"/>
<rect x="367.2" y="840.2" width="31.5" height="1.0" fill="#ffffff" opacity="0.073"/>
<rect x="300.9" y="859.0" width="51.1" height="0.7" fill="#000000" opacity="0.027"/>
<rect x="283.7" y="844.8" width="24.2" height="1.3" fill="#ffffff" opacity="0.061"/>
<rect x="147.2" y="830.1" width="19.5" height="1.0" fill="#ffffff" opacity="0.051"/>
<rect x="133.6" y="880.6" width="80.9" height="1.0" fill="#ffffff" opacity="0.066"/>
<rect x="76.0" y="823.9" width="70.9" height="1.0" fill="#000000" opacity="0.058"/>
<rect x="487.5" y="836.0" width="21.8" height="1.3" fill="#ffffff" opacity="0.067"/>
<rect x="196.1" y="843.8" width="77.8" height="0.7" fill="#ffffff" opacity="0.061"/>
<rect x="460.1" y="850.7" width="33.1" height="1.0" fill="#ffffff" opacity="0.066"/>
<rect x="298.4" y="825.5" width="63.3" height="0.7" fill="#ffffff" opacity="0.061"/>
<rect x="314.3" y="841.7" width="54.6" height="1.0" fill="#000000" opacity="0.034"/>
<rect x="396.9" y="859.3" width="23.3" height="1.0" fill="#ffffff" opacity="0.032"/>
<rect x="460.2" y="821.7" width="30.3" height="1.3" fill="#000000" opacity="0.058"/>
<rect x="422.7" y="830.5" width="25.2" height="1.0" fill="#ffffff" opacity="0.075"/>
<rect x="378.9" y="850.5" width="81.4" height="1.0" fill="#ffffff" opacity="0.050"/>
<rect x="431.2" y="881.3" width="15.6" height="1.3" fill="#ffffff" opacity="0.040"/>
<rect x="261.1" y="831.7" width="15.4" height="1.0" fill="#000000" opacity="0.065"/>
<rect x="110.0" y="875.0" width="78.1" height="1.3" fill="#ffffff" opacity="0.074"/>
<rect x="238.0" y="833.7" width="22.3" height="1.3" fill="#ffffff" opacity="0.046"/>
<rect x="137.5" y="861.9" width="59.6" height="1.3" fill="#ffffff" opacity="0.056"/>
<rect x="293.6" y="853.8" width="18.4" height="1.0" fill="#ffffff" opacity="0.069"/>
<rect x="86.8" y="876.2" width="25.9" height="0.7" fill="#000000" opacity="0.057"/>
<rect x="483.8" y="884.5" width="15.8" height="1.3" fill="#000000" opacity="0.056"/>
<rect x="439.7" y="837.0" width="43.2" height="1.0" fill="#ffffff" opacity="0.045"/>
<rect x="410.6" y="868.8" width="19.2" height="0.7" fill="#000000" opacity="0.038"/>
<rect x="129.2" y="856.0" width="83.9" height="0.7" fill="#ffffff" opacity="0.040"/>
<rect x="300.6" y="825.5" width="20.1" height="0.7" fill="#ffffff" opacity="0.051"/>
<rect x="145.0" y="837.3" width="20.8" height="0.7" fill="#ffffff" opacity="0.071"/>
<rect x="388.2" y="838.2" width="21.1" height="1.3" fill="#ffffff" opacity="0.075"/>
<rect x="189.1" y="832.7" width="36.4" height="1.3" fill="#000000" opacity="0.060"/>
<rect x="306.9" y="853.9" width="28.9" height="1.3" fill="#ffffff" opacity="0.038"/>
<rect x="76.0" y="867.7" width="40.2" height="1.3" fill="#000000" opacity="0.063"/>
<rect x="454.8" y="885.9" width="61.2" height="1.0" fill="#ffffff" opacity="0.034"/>
<rect x="454.3" y="855.0" width="37.7" height="0.7" fill="#000000" opacity="0.047"/>
<rect x="377.1" y="866.1" width="34.9" height="1.3" fill="#ffffff" opacity="0.026"/>
<rect x="95.1" y="855.8" width="22.4" height="1.0" fill="#ffffff" opacity="0.068"/>
<rect x="332.9" y="874.6" width="17.8" height="0.7" fill="#000000" opacity="0.049"/>
<rect x="308.7" y="856.8" width="24.8" height="1.0" fill="#ffffff" opacity="0.066"/>
<rect x="202.7" y="835.3" width="24.9" height="0.7" fill="#ffffff" opacity="0.047"/>
<rect x="78.1" y="857.0" width="24.9" height="1.0" fill="#000000" opacity="0.052"/>
<rect x="425.0" y="837.7" width="28.0" height="1.0" fill="#000000" opacity="0.062"/>
<rect x="103.2" y="847.8" width="20.8" height="0.7" fill="#ffffff" opacity="0.058"/>
<rect x="408.0" y="821.5" width="74.6" height="1.3" fill="#000000" opacity="0.038"/>
<rect x="164.2" y="823.6" width="26.6" height="1.0" fill="#ffffff" opacity="0.046"/>
<rect x="308.6" y="840.2" width="85.6" height="1.0" fill="#ffffff" opacity="0.052"/>
<rect x="226.0" y="842.7" width="79.1" height="0.7" fill="#ffffff" opacity="0.062"/>
<rect x="462.4" y="861.3" width="47.0" height="1.3" fill="#ffffff" opacity="0.063"/>
<rect x="356.4" y="835.1" width="70.7" height="1.3" fill="#ffffff" opacity="0.030"/>
<rect x="439.0" y="837.8" width="23.8" height="1.0" fill="#ffffff" opacity="0.051"/>
<rect x="438.8" y="828.0" width="63.2" height="1.0" fill="#ffffff" opacity="0.066"/>
<rect x="217.8" y="861.0" width="43.5" height="0.7" fill="#ffffff" opacity="0.055"/>
<rect x="288.7" y="848.6" width="80.2" height="1.0" fill="#000000" opacity="0.048"/>
<rect x="408.5" y="825.6" width="74.5" height="1.0" fill="#ffffff" opacity="0.068"/>
<rect x="244.4" y="883.9" width="30.9" height="1.0" fill="#000000" opacity="0.037"/>
<rect x="97.2" y="869.2" width="41.8" height="1.3" fill="#ffffff" opacity="0.071"/>
<rect x="335.7" y="853.7" width="38.0" height="1.3" fill="#ffffff" opacity="0.070"/>
<rect x="76.0" y="846.7" width="51.4" height="1.3" fill="#ffffff" opacity="0.044"/>
<rect x="215.6" y="837.1" width="54.7" height="0.7" fill="#ffffff" opacity="0.063"/>
<rect x="466.0" y="850.4" width="50.0" height="1.3" fill="#ffffff" opacity="0.059"/>
<rect x="76.0" y="830.8" width="41.8" height="0.7" fill="#ffffff" opacity="0.064"/>
<rect x="360.3" y="876.2" width="42.9" height="0.7" fill="#ffffff" opacity="0.034"/>
<rect x="97.7" y="859.3" width="34.6" height="1.3" fill="#ffffff" opacity="0.047"/>
<rect x="363.8" y="859.9" width="22.6" height="1.3" fill="#ffffff" opacity="0.073"/>
<rect x="268.1" y="870.6" width="50.7" height="0.7" fill="#000000" opacity="0.057"/>
<rect x="245.5" y="823.5" width="80.3" height="0.7" fill="#000000" opacity="0.069"/>
<rect x="447.8" y="874.7" width="68.2" height="0.7" fill="#000000" opacity="0.027"/>
<rect x="458.8" y="881.7" width="57.2" height="1.0" fill="#ffffff" opacity="0.033"/>
<rect x="231.5" y="833.0" width="34.1" height="1.0" fill="#000000" opacity="0.039"/>
<rect x="378.6" y="883.2" width="22.8" height="1.0" fill="#ffffff" opacity="0.042"/>
<rect x="145.2" y="819.7" width="28.2" height="1.3" fill="#ffffff" opacity="0.042"/>
<rect x="345.5" y="849.7" width="66.9" height="0.7" fill="#ffffff" opacity="0.070"/>
<rect x="221.5" y="842.4" width="41.8" height="0.7" fill="#ffffff" opacity="0.030"/>
<rect x="242.2" y="832.7" width="26.7" height="1.3" fill="#ffffff" opacity="0.046"/>
<rect x="451.7" y="879.1" width="45.4" height="1.0" fill="#ffffff" opacity="0.070"/>
<rect x="454.4" y="827.4" width="61.6" height="0.7" fill="#ffffff" opacity="0.042"/>
<rect x="76.0" y="859.1" width="19.8" height="1.3" fill="#ffffff" opacity="0.031"/>
<rect x="255.4" y="838.3" width="47.5" height="1.3" fill="#000000" opacity="0.051"/>
<rect x="281.2" y="870.2" width="64.8" height="1.0" fill="#ffffff" opacity="0.061"/>
<rect x="365.3" y="885.8" width="38.2" height="1.3" fill="#ffffff" opacity="0.038"/>
<rect x="458.8" y="837.2" width="23.0" height="0.7" fill="#ffffff" opacity="0.034"/>
<rect x="136.7" y="848.9" width="18.0" height="1.3" fill="#000000" opacity="0.050"/>
<rect x="304.3" y="865.4" width="66.0" height="1.3" fill="#ffffff" opacity="0.059"/>
<rect x="378.8" y="863.7" width="70.1" height="1.0" fill="#ffffff" opacity="0.056"/>
<rect x="149.8" y="853.2" width="58.0" height="1.3" fill="#ffffff" opacity="0.050"/>
<rect x="142.0" y="871.5" width="23.9" height="1.3" fill="#ffffff" opacity="0.066"/>
<rect x="291.9" y="833.0" width="69.1" height="1.3" fill="#ffffff" opacity="0.070"/>
<rect x="170.9" y="853.5" width="63.4" height="0.7" fill="#000000" opacity="0.027"/>
<rect x="347.9" y="858.0" width="32.9" height="1.3" fill="#000000" opacity="0.035"/>
<rect x="438.9" y="859.8" width="59.7" height="1.3" fill="#ffffff" opacity="0.028"/>
<rect x="76.0" y="837.5" width="67.8" height="1.3" fill="#ffffff" opacity="0.042"/>
<rect x="205.6" y="862.0" width="56.2" height="1.0" fill="#ffffff" opacity="0.037"/>
<rect x="146.5" y="865.2" width="84.8" height="1.3" fill="#000000" opacity="0.067"/>
<rect x="424.4" y="841.5" width="40.3" height="0.7" fill="#000000" opacity="0.054"/>
<rect x="76.0" y="879.9" width="85.3" height="0.7" fill="#ffffff" opacity="0.033"/>
<rect x="189.9" y="861.7" width="43.4" height="0.7" fill="#000000" opacity="0.054"/>
<rect x="437.1" y="838.7" width="28.9" height="0.7" fill="#ffffff" opacity="0.028"/>
<rect x="132.6" y="878.4" width="54.4" height="0.7" fill="#000000" opacity="0.050"/>
<rect x="471.6" y="858.6" width="44.4" height="1.3" fill="#ffffff" opacity="0.031"/>
<rect x="405.3" y="845.7" width="78.1" height="0.7" fill="#000000" opacity="0.035"/>
<rect x="331.1" y="874.3" width="78.8" height="0.7" fill="#ffffff" opacity="0.046"/>
<rect x="92.9" y="867.5" width="67.3" height="1.0" fill="#ffffff" opacity="0.055"/>
<rect x="274.6" y="857.8" width="88.5" height="1.0" fill="#ffffff" opacity="0.057"/>
<rect x="159.5" y="843.0" width="32.1" height="0.7" fill="#ffffff" opacity="0.038"/>
<rect x="103.3" y="833.6" width="39.1" height="0.7" fill="#ffffff" opacity="0.066"/>
<rect x="75" y="817.3" width="442.5" height="69.70000000000005" fill="url(#gFrontShade)"/>
<rect x="75" y="816.5" width="442.5" height="2.4" fill="url(#gHi)"/>
<rect x="76" y="881" width="440" height="2" fill="#ffffff" opacity="0.08"/>
<rect x="76" y="883.4" width="440" height="1.1" fill="#000000" opacity="0.25"/>
<rect x="514" y="818.8" width="3.5" height="67.20000000000005" fill="#5c5f64"/>
<rect x="513.6" y="818.8" width="0.8" height="67.20000000000005" fill="#2e3034" opacity="0.7"/>
<path d="M76,864.5 L115,864.5 L128,876.5 L128,886.5 L78,886.5 Q76,886.5 76,885 Z" fill="#ffffff" opacity="0.06"/>
<path d="M514,864.5 L478,864.5 L465,876.5 L465,886.5 L514,886.5 Z" fill="#ffffff" opacity="0.08"/>
<path d="M77.5,866.0 L115.0,866.0" stroke="#2e3136" stroke-width="1.1" fill="none" opacity="0.8"/>
<path d="M77.5,867.3 L115.0,867.3" stroke="#70747a" stroke-width="0.7" fill="none" opacity="0.45"/>
<path d="M515.5,866.0 L478.0,866.0" stroke="#2e3136" stroke-width="1.1" fill="none" opacity="0.8"/>
<path d="M515.5,867.3 L478.0,867.3" stroke="#70747a" stroke-width="0.7" fill="none" opacity="0.45"/>
<path d="M77.5,870.5 L119.9,870.5" stroke="#2e3136" stroke-width="1.1" fill="none" opacity="0.8"/>
<path d="M77.5,871.8 L119.9,871.8" stroke="#70747a" stroke-width="0.7" fill="none" opacity="0.45"/>
<path d="M515.5,870.5 L473.1,870.5" stroke="#2e3136" stroke-width="1.1" fill="none" opacity="0.8"/>
<path d="M515.5,871.8 L473.1,871.8" stroke="#70747a" stroke-width="0.7" fill="none" opacity="0.45"/>
<path d="M77.5,875.0 L124.8,875.0" stroke="#2e3136" stroke-width="1.1" fill="none" opacity="0.8"/>
<path d="M77.5,876.3 L124.8,876.3" stroke="#70747a" stroke-width="0.7" fill="none" opacity="0.45"/>
<path d="M515.5,875.0 L468.2,875.0" stroke="#2e3136" stroke-width="1.1" fill="none" opacity="0.8"/>
<path d="M515.5,876.3 L468.2,876.3" stroke="#70747a" stroke-width="0.7" fill="none" opacity="0.45"/>
<path d="M77.5,879.6 L127.5,879.6" stroke="#2e3136" stroke-width="1.1" fill="none" opacity="0.8"/>
<path d="M77.5,880.9 L127.5,880.9" stroke="#70747a" stroke-width="0.7" fill="none" opacity="0.45"/>
<path d="M515.5,879.6 L466.0,879.6" stroke="#2e3136" stroke-width="1.1" fill="none" opacity="0.8"/>
<path d="M515.5,880.9 L466.0,880.9" stroke="#70747a" stroke-width="0.7" fill="none" opacity="0.45"/>
<path d="M77.5,884.0 L127.5,884.0" stroke="#2e3136" stroke-width="1.1" fill="none" opacity="0.8"/>
<path d="M77.5,885.3 L127.5,885.3" stroke="#70747a" stroke-width="0.7" fill="none" opacity="0.45"/>
<path d="M515.5,884.0 L466.0,884.0" stroke="#2e3136" stroke-width="1.1" fill="none" opacity="0.8"/>
<path d="M515.5,885.3 L466.0,885.3" stroke="#70747a" stroke-width="0.7" fill="none" opacity="0.45"/>
<path d="M115,866 L127.5,877.5" stroke="#1e2024" stroke-width="1.3" opacity="0.8"/>
<path d="M478,866 L465.5,877.5" stroke="#1e2024" stroke-width="1.3" opacity="0.8"/>
<circle cx="189.6" cy="862.9" r="7.3" fill="#2a2d31"/>
<circle cx="189.6" cy="862.9" r="5.6" fill="#0a0a0b"/>
<circle cx="188.1" cy="861.1" r="1.4" fill="#333" opacity="0.6"/>
<circle cx="223.3" cy="862.9" r="7.3" fill="#2a2d31"/>
<circle cx="223.3" cy="862.9" r="5.6" fill="#0a0a0b"/>
<circle cx="221.8" cy="861.1" r="1.4" fill="#333" opacity="0.6"/>
<text x="179.30" y="876.30" font-size="6.2" text-anchor="start" fill="#e6e6e6" font-weight="normal" textLength="22.40" lengthAdjust="spacingAndGlyphs">Audio in</text>
<path d="M220.6,876.0 L220.6,873.4 A2.8,2.8 0 0 1 226.20000000000002,873.4 L226.20000000000002,876.0" stroke="#e8e8e8" stroke-width="1" fill="none"/>
<rect x="219.70000000000002" y="874.0" width="1.8" height="2.6" rx="0.5" fill="#e8e8e8"/><rect x="225.3" y="874.0" width="1.8" height="2.6" rx="0.5" fill="#e8e8e8"/>
<text x="407.40" y="833.60" font-size="11.2" text-anchor="start" fill="#f2f2f2" font-weight="bold" textLength="46.50" lengthAdjust="spacingAndGlyphs">TESmart</text>
<rect x="407.8" y="835.5" width="7.6" height="7.2" rx="1" fill="#e6e6e6"/>
<text x="411.6" y="841.1" font-size="5" text-anchor="middle" fill="#4e535a" font-weight="bold">TX</text>
<rect x="417.4" y="835.8" width="36" height="6.8" rx="2.6" fill="none" stroke="#e6e6e6" stroke-width="0.9"/>
<text x="419.70" y="840.90" font-size="5" text-anchor="start" fill="#e6e6e6" font-weight="bold" textLength="31.60" lengthAdjust="spacingAndGlyphs">HKE105S-E25</text>
<circle cx="399" cy="867.3" r="2.2" fill="#6d7278" opacity="0.7"/>
<circle cx="399" cy="867.3" r="1.3" fill="#a8aeb4"/>
<circle cx="425" cy="867.3" r="2.2" fill="#6d7278" opacity="0.7"/>
<circle cx="425" cy="867.3" r="1.3" fill="#a8aeb4"/>
<circle cx="450.6" cy="867.3" r="2.2" fill="#6d7278" opacity="0.7"/>
<circle cx="450.6" cy="867.3" r="1.3" fill="#a8aeb4"/>
<text x="390.90" y="875.90" font-size="6.2" text-anchor="start" fill="#ececec" font-weight="normal" textLength="17.40" lengthAdjust="spacingAndGlyphs">Status</text>
<text x="419.30" y="875.90" font-size="6.2" text-anchor="start" fill="#ececec" font-weight="normal" textLength="11.90" lengthAdjust="spacingAndGlyphs">Link</text>
<text x="442.60" y="875.90" font-size="6.2" text-anchor="start" fill="#ececec" font-weight="normal" textLength="17.00" lengthAdjust="spacingAndGlyphs">Power</text>
<rect x="133.3" y="843.9" width="25.4" height="24.6" rx="1.2" fill="#de2b2b" stroke="#6e1414" stroke-width="0.8"/>
<path d="M137.70000000000002,855.8 L137.5,849 Q137.5,846.2 139.70000000000002,846 L140.9,846.6 L139.9,848.4 L140.70000000000002,855.8 Z" fill="#f8e8e8"/>
<path d="M144.60000000000002,855.8 L144.4,849 Q144.4,846.2 146.60000000000002,846 L147.8,846.6 L146.8,848.4 L147.60000000000002,855.8 Z" fill="#f8e8e8"/>
<path d="M151.50000000000003,855.8 L151.3,849 Q151.3,846.2 153.50000000000003,846 L154.70000000000002,846.6 L153.70000000000002,848.4 L154.50000000000003,855.8 Z" fill="#f8e8e8"/>
<text x="137.30" y="862.40" font-size="5.6" text-anchor="start" fill="#ffe6e6" font-weight="bold" textLength="17.00" lengthAdjust="spacingAndGlyphs">1 2 3</text>
<text x="136.30" y="866.90" font-size="4.3" text-anchor="start" fill="#ffe6e6" font-weight="bold" textLength="9.20" lengthAdjust="spacingAndGlyphs">ON</text>
<text x="137.80" y="876.00" font-size="5.8" text-anchor="start" fill="#e8e8e8" font-weight="normal" textLength="13.70" lengthAdjust="spacingAndGlyphs">EDID</text>
<rect x="251.5" y="827.2" width="40.5" height="41.3" rx="2.5" fill="#0c0c0c"/>
<rect x="252.7" y="828.4000000000001" width="38.1" height="38.9" rx="2.2" fill="#e4e1d8"/>
<rect x="255.3" y="830.30" width="32.9" height="14.04" fill="#151513"/>
<rect x="256.1" y="836.20" width="31.3" height="2.25" fill="#75736a"/>
<rect x="256.1" y="838.44" width="31.3" height="3.51" fill="#3a3934"/>
<rect x="258.30" y="838.72" width="2.4" height="2.81" fill="#0a0a0a"/>
<rect x="266.47" y="838.72" width="2.4" height="2.81" fill="#0a0a0a"/>
<rect x="274.63" y="838.72" width="2.4" height="2.81" fill="#0a0a0a"/>
<rect x="282.80" y="838.72" width="2.4" height="2.81" fill="#0a0a0a"/>
<rect x="255.3" y="851.98" width="32.9" height="13.42" fill="#151513"/>
<rect x="256.1" y="857.62" width="31.3" height="2.15" fill="#75736a"/>
<rect x="256.1" y="859.76" width="31.3" height="3.35" fill="#3a3934"/>
<rect x="258.30" y="860.03" width="2.4" height="2.68" fill="#0a0a0a"/>
<rect x="266.47" y="860.03" width="2.4" height="2.68" fill="#0a0a0a"/>
<rect x="274.63" y="860.03" width="2.4" height="2.68" fill="#0a0a0a"/>
<rect x="282.80" y="860.03" width="2.4" height="2.68" fill="#0a0a0a"/>
<text x="260.00" y="876.00" font-size="5.8" text-anchor="start" fill="#e8e8e8" font-weight="normal" textLength="25.00" lengthAdjust="spacingAndGlyphs">480Mbps</text>
<rect x="362.3" y="835.9" width="21.6" height="6.8" rx="0.8" fill="none" stroke="#dedede" stroke-width="0.75"/>
<rect x="363.6" y="837.2" width="3.4" height="4.2" rx="0.4" fill="#e6e6e6"/>
<text x="368.00" y="841.30" font-size="4.2" text-anchor="start" fill="#e0e0e0" font-weight="bold" textLength="14.70" lengthAdjust="spacingAndGlyphs">POW ON</text>
<circle cx="372.9" cy="859.9" r="9.2" fill="#1e1e1e"/>
<circle cx="372.7" cy="859.6" r="7.7" fill="#e9c12a"/>
<circle cx="372.2" cy="858.8" r="5" fill="#f0cc3a" opacity="0.6"/>
<polygon points="583,779.5 584.5,778 985,778 1024,819 583,819" fill="url(#gTopR)"/>
<polygon points="583,779.5 584.5,778 985,778 1024,819 583,819" fill="url(#gTopRv)"/>
<text x="0" y="0" font-size="8.5" font-weight="bold" text-anchor="middle" fill="#c8c8c8" opacity="0.42" stroke="#c8c8c8" stroke-width="0.2" textLength="43" lengthAdjust="spacing" transform="translate(792,797.5) scale(-2.6,-0.6)">TESmart</text>
<path d="M583,819 L1024,819 L1024,886.8 Q1024,888.3 1022,888.3 L585,888.3 Q583,888.3 583,886.8 Z" fill="#1c1c1d"/>
<rect x="583" y="819" width="441" height="1.2" fill="#444446"/>
<rect x="583" y="779.5" width="1.5" height="107.29999999999995" fill="#555" opacity="0.6"/>
<circle cx="652.8" cy="859.8" r="14.1" fill="#dcd8cd"/><circle cx="653.1999999999999" cy="860.4" r="11.6" fill="#b6b2a8"/><circle cx="653.4" cy="860.6999999999999" r="10.4" fill="#e2ded4"/><circle cx="653.8" cy="861.5999999999999" r="8.6" fill="#080808"/>
<rect x="685.5" y="845.8" width="41.3" height="29" fill="#e0dcd2"/><path d="M689.5,852.5999999999999 L700.5,852.5999999999999 L700.5,845.8 L712.3,845.8 L712.3,852.5999999999999 L722.3,852.5999999999999 L722.3,868.5 L689.5,868.5 Z" fill="#0a0a0a"/><rect x="687.7" y="848.0999999999999" width="7.8" height="2.4" fill="#6f7556"/><rect x="716.8" y="848.0999999999999" width="6.8" height="2.4" fill="#6f7556"/><rect x="689.5" y="867.8" width="32.8" height="1" fill="#7a776f"/>
<path d="M748,861.5 Q748,859 750.5,859 L786.5,859 Q789,859 789,861.5 L789,867.99 L782.5,874.5 L754.5,874.5 L748,867.99 Z" fill="#e0dcd2"/><path d="M750.3,861.3 L786.7,861.3 L786.7,867.06 L781.2,872.2 L755.8,872.2 L750.3,867.06 Z" fill="#0a0a0a"/><rect x="755.5" y="865.2" width="26" height="2.6" fill="#2e2e2e"/><rect x="755.5" y="865.2" width="26" height="1" fill="#8a877e"/>
<rect x="808.3" y="833.8" width="39.7" height="40.7" rx="2.5" fill="#0c0c0c"/>
<rect x="809.5" y="835.0" width="37.300000000000004" height="38.300000000000004" rx="2.2" fill="#e4e1d8"/>
<rect x="812.0999999999999" y="836.90" width="32.1" height="13.79" fill="#151513"/>
<rect x="812.9" y="842.69" width="30.500000000000004" height="2.21" fill="#75736a"/>
<rect x="812.9" y="844.90" width="30.500000000000004" height="3.45" fill="#3a3934"/>
<rect x="815.10" y="845.17" width="2.4" height="2.76" fill="#0a0a0a"/>
<rect x="823.00" y="845.17" width="2.4" height="2.76" fill="#0a0a0a"/>
<rect x="830.90" y="845.17" width="2.4" height="2.76" fill="#0a0a0a"/>
<rect x="838.80" y="845.17" width="2.4" height="2.76" fill="#0a0a0a"/>
<rect x="812.0999999999999" y="858.22" width="32.1" height="13.18" fill="#151513"/>
<rect x="812.9" y="863.76" width="30.500000000000004" height="2.11" fill="#75736a"/>
<rect x="812.9" y="865.86" width="30.500000000000004" height="3.30" fill="#3a3934"/>
<rect x="815.10" y="866.13" width="2.4" height="2.64" fill="#0a0a0a"/>
<rect x="823.00" y="866.13" width="2.4" height="2.64" fill="#0a0a0a"/>
<rect x="830.90" y="866.13" width="2.4" height="2.64" fill="#0a0a0a"/>
<rect x="838.80" y="866.13" width="2.4" height="2.64" fill="#0a0a0a"/>
<circle cx="884" cy="868" r="6.8" fill="#303030"/><circle cx="884" cy="868" r="5.1" fill="#060606"/>
<circle cx="918" cy="868" r="6.8" fill="#303030"/><circle cx="918" cy="868" r="5.1" fill="#060606"/>
<rect x="944.2" y="856.8000000000001" width="35.1" height="19.400000000000002" fill="#0a2a0a"/>
<rect x="945" y="857.6" width="33.5" height="17.8" fill="#86e07c"/>
<rect x="947.70" y="860.20" width="7.77" height="12.80" fill="#0f6e16"/>
<path d="M949.18,863.10 L951.58,859.60 L953.98,863.10 L952.58,863.10 L952.58,866.60 L950.58,866.60 L950.58,863.10 Z" fill="#9ef094" opacity="0.85"/>
<circle cx="951.58" cy="868.60" r="1.6" fill="none" stroke="#7fd37a" stroke-width="0.7"/>
<rect x="957.87" y="860.20" width="7.77" height="12.80" fill="#0f6e16"/>
<path d="M959.35,863.10 L961.75,859.60 L964.15,863.10 L962.75,863.10 L962.75,866.60 L960.75,866.60 L960.75,863.10 Z" fill="#9ef094" opacity="0.85"/>
<circle cx="961.75" cy="868.60" r="1.6" fill="none" stroke="#7fd37a" stroke-width="0.7"/>
<rect x="968.03" y="860.20" width="7.77" height="12.80" fill="#0f6e16"/>
<path d="M969.52,863.10 L971.92,859.60 L974.32,863.10 L972.92,863.10 L972.92,866.60 L970.92,866.60 L970.92,863.10 Z" fill="#9ef094" opacity="0.85"/>
<circle cx="971.92" cy="868.60" r="1.6" fill="none" stroke="#7fd37a" stroke-width="0.7"/>
<text x="640.00" y="884.40" font-size="7" text-anchor="start" fill="#ee7448" font-weight="bold" textLength="24.60" lengthAdjust="spacingAndGlyphs">DC 12V</text>
<text x="698.40" y="884.40" font-size="7" text-anchor="start" fill="#ee7448" font-weight="bold" textLength="13.70" lengthAdjust="spacingAndGlyphs">UTP</text>
<text x="754.10" y="884.40" font-size="7" text-anchor="start" fill="#ee7448" font-weight="bold" textLength="28.20" lengthAdjust="spacingAndGlyphs">OUTPUT</text>
<text x="811.70" y="884.40" font-size="7" text-anchor="start" fill="#ee7448" font-weight="bold" textLength="31.10" lengthAdjust="spacingAndGlyphs">480Mbps</text>
<text x="873.90" y="884.40" font-size="7" text-anchor="start" fill="#ee7448" font-weight="bold" textLength="20.70" lengthAdjust="spacingAndGlyphs">IR out</text>
<text x="909.90" y="884.40" font-size="7" text-anchor="start" fill="#ee7448" font-weight="bold" textLength="15.90" lengthAdjust="spacingAndGlyphs">IR in</text>
<text x="947.70" y="884.40" font-size="7" text-anchor="start" fill="#ee7448" font-weight="bold" textLength="8.60" lengthAdjust="spacingAndGlyphs">TX</text>
<text x="966.30" y="884.40" font-size="7" text-anchor="start" fill="#ee7448" font-weight="bold" textLength="9.60" lengthAdjust="spacingAndGlyphs">RX</text>
<path d="M961.8,877.9 L961.8,881.4" stroke="#ee7448" stroke-width="1.1"/><path d="M958.0,881.1999999999999 Q961.8,882.4 965.5999999999999,881.1999999999999 L964.0,884.4 L959.5999999999999,884.4 Z" fill="#ee7448"/>
<line x1="147.5" y1="744.3" x2="147.5" y2="838.5" stroke="#bfbfbf" stroke-width="1.45"/>
<circle cx="147.9" cy="744.3" r="3.4" fill="#bdbdbd"/>
<line x1="223.5" y1="744" x2="223.5" y2="851.6" stroke="#bfbfbf" stroke-width="1.45"/>
<circle cx="224" cy="744" r="3.4" fill="#bdbdbd"/>
<line x1="373.8" y1="744.2" x2="373.8" y2="832" stroke="#bfbfbf" stroke-width="1.45"/>
<circle cx="373.9" cy="744.2" r="3.4" fill="#bdbdbd"/>
<line x1="189.5" y1="879" x2="189.5" y2="936.3" stroke="#bfbfbf" stroke-width="1.45"/>
<circle cx="188.8" cy="936.3" r="3.4" fill="#bdbdbd"/>
<line x1="273.2" y1="879" x2="273.2" y2="936.3" stroke="#bfbfbf" stroke-width="1.45"/>
<circle cx="272.8" cy="936.3" r="3.4" fill="#bdbdbd"/>
<line x1="396.15" y1="897" x2="452.85" y2="897" stroke="#bfbfbf" stroke-width="1.45"/>
<line x1="397" y1="881.7" x2="397" y2="897" stroke="#bfbfbf" stroke-width="1.45"/>
<line x1="452" y1="881.7" x2="452" y2="897" stroke="#bfbfbf" stroke-width="1.45"/>
<line x1="425" y1="881.7" x2="425" y2="936.3" stroke="#bfbfbf" stroke-width="1.45"/>
<circle cx="424.7" cy="936.3" r="3.4" fill="#bdbdbd"/>
<line x1="706" y1="743.8" x2="706" y2="838.5" stroke="#bfbfbf" stroke-width="1.45"/>
<circle cx="705.8" cy="743.8" r="3.4" fill="#bdbdbd"/>
<line x1="827.3" y1="743.8" x2="827.3" y2="830" stroke="#bfbfbf" stroke-width="1.45"/>
<circle cx="827" cy="743.8" r="3.4" fill="#bdbdbd"/>
<line x1="962.5" y1="743.8" x2="962.5" y2="851" stroke="#bfbfbf" stroke-width="1.45"/>
<circle cx="962.6" cy="743.8" r="3.4" fill="#bdbdbd"/>
<line x1="652" y1="890" x2="652" y2="936.4" stroke="#bfbfbf" stroke-width="1.45"/>
<circle cx="650.5" cy="936.4" r="3.4" fill="#bdbdbd"/>
<line x1="770.7" y1="890" x2="770.7" y2="936.4" stroke="#bfbfbf" stroke-width="1.45"/>
<circle cx="770.3" cy="936.4" r="3.4" fill="#bdbdbd"/>
<line x1="878.75" y1="901.4" x2="923.45" y2="901.4" stroke="#bfbfbf" stroke-width="1.45"/>
<line x1="879.6" y1="888.7" x2="879.6" y2="901.4" stroke="#bfbfbf" stroke-width="1.45"/>
<line x1="922.6" y1="888.7" x2="922.6" y2="901.4" stroke="#bfbfbf" stroke-width="1.45"/>
<line x1="901" y1="901.4" x2="901" y2="936.4" stroke="#bfbfbf" stroke-width="1.45"/>
<circle cx="901" cy="936.4" r="3.4" fill="#bdbdbd"/>
<text x="100.20" y="710.70" font-size="23.4" text-anchor="start" fill="#474747" font-weight="normal" textLength="88.20" lengthAdjust="spacingAndGlyphs">EDID-DIP</text>
<text x="100.90" y="733.20" font-size="23.4" text-anchor="start" fill="#474747" font-weight="normal" textLength="87.60" lengthAdjust="spacingAndGlyphs">-Schalter</text>
<text x="264.70" y="733.20" font-size="23.4" text-anchor="middle" fill="#474747" font-weight="normal" textLength="141.50" lengthAdjust="spacingAndGlyphs">Audioausgang</text>
<text x="426.40" y="735.20" font-size="23.4" text-anchor="middle" fill="#474747" font-weight="normal" textLength="149.80" lengthAdjust="spacingAndGlyphs">Stromanzeige</text>
<text x="159.90" y="964.30" font-size="23.4" text-anchor="middle" fill="#474747" font-weight="normal" textLength="137.90" lengthAdjust="spacingAndGlyphs">Audioeingang</text>
<text x="275.20" y="964.30" font-size="23.4" text-anchor="middle" fill="#474747" font-weight="normal" textLength="82.90" lengthAdjust="spacingAndGlyphs">USB 2.0</text>
<text x="275.40" y="987.20" font-size="23.4" text-anchor="middle" fill="#474747" font-weight="normal" textLength="46.20" lengthAdjust="spacingAndGlyphs">port</text>
<text x="425.10" y="964.30" font-size="23.4" text-anchor="middle" fill="#474747" font-weight="normal" textLength="83.90" lengthAdjust="spacingAndGlyphs">Anzeige</text>
<text x="702.00" y="708.80" font-size="23.4" text-anchor="middle" fill="#474747" font-weight="normal" textLength="45.10" lengthAdjust="spacingAndGlyphs">LAN</text>
<text x="705.30" y="732.40" font-size="23.4" text-anchor="middle" fill="#474747" font-weight="normal" textLength="47.00" lengthAdjust="spacingAndGlyphs">port</text>
<text x="828.00" y="708.80" font-size="23.4" text-anchor="middle" fill="#474747" font-weight="normal" textLength="84.40" lengthAdjust="spacingAndGlyphs">USB 2.0</text>
<text x="828.00" y="732.40" font-size="23.4" text-anchor="middle" fill="#474747" font-weight="normal" textLength="48.40" lengthAdjust="spacingAndGlyphs">port</text>
<text x="962.70" y="708.80" font-size="23.4" text-anchor="middle" fill="#474747" font-weight="normal" textLength="67.00" lengthAdjust="spacingAndGlyphs">RS232</text>
<text x="963.50" y="732.40" font-size="23.4" text-anchor="middle" fill="#474747" font-weight="normal" textLength="47.80" lengthAdjust="spacingAndGlyphs">port</text>
<text x="649.40" y="963.00" font-size="23.4" text-anchor="middle" fill="#474747" font-weight="normal" textLength="78.90" lengthAdjust="spacingAndGlyphs">DC 12V</text>
<text x="771.50" y="963.00" font-size="23.4" text-anchor="middle" fill="#474747" font-weight="normal" textLength="65.20" lengthAdjust="spacingAndGlyphs">HDMI-</text>
<text x="771.50" y="986.50" font-size="23.4" text-anchor="middle" fill="#474747" font-weight="normal" textLength="131.60" lengthAdjust="spacingAndGlyphs">Eingangsport</text>
<text x="930.40" y="963.00" font-size="23.4" text-anchor="middle" fill="#474747" font-weight="normal" textLength="165.60" lengthAdjust="spacingAndGlyphs">IR (Ausgangsport/</text>
<text x="929.80" y="986.50" font-size="23.4" text-anchor="middle" fill="#474747" font-weight="normal" textLength="130.00" lengthAdjust="spacingAndGlyphs">Eingangsport)</text>
</svg>
</body></html>
